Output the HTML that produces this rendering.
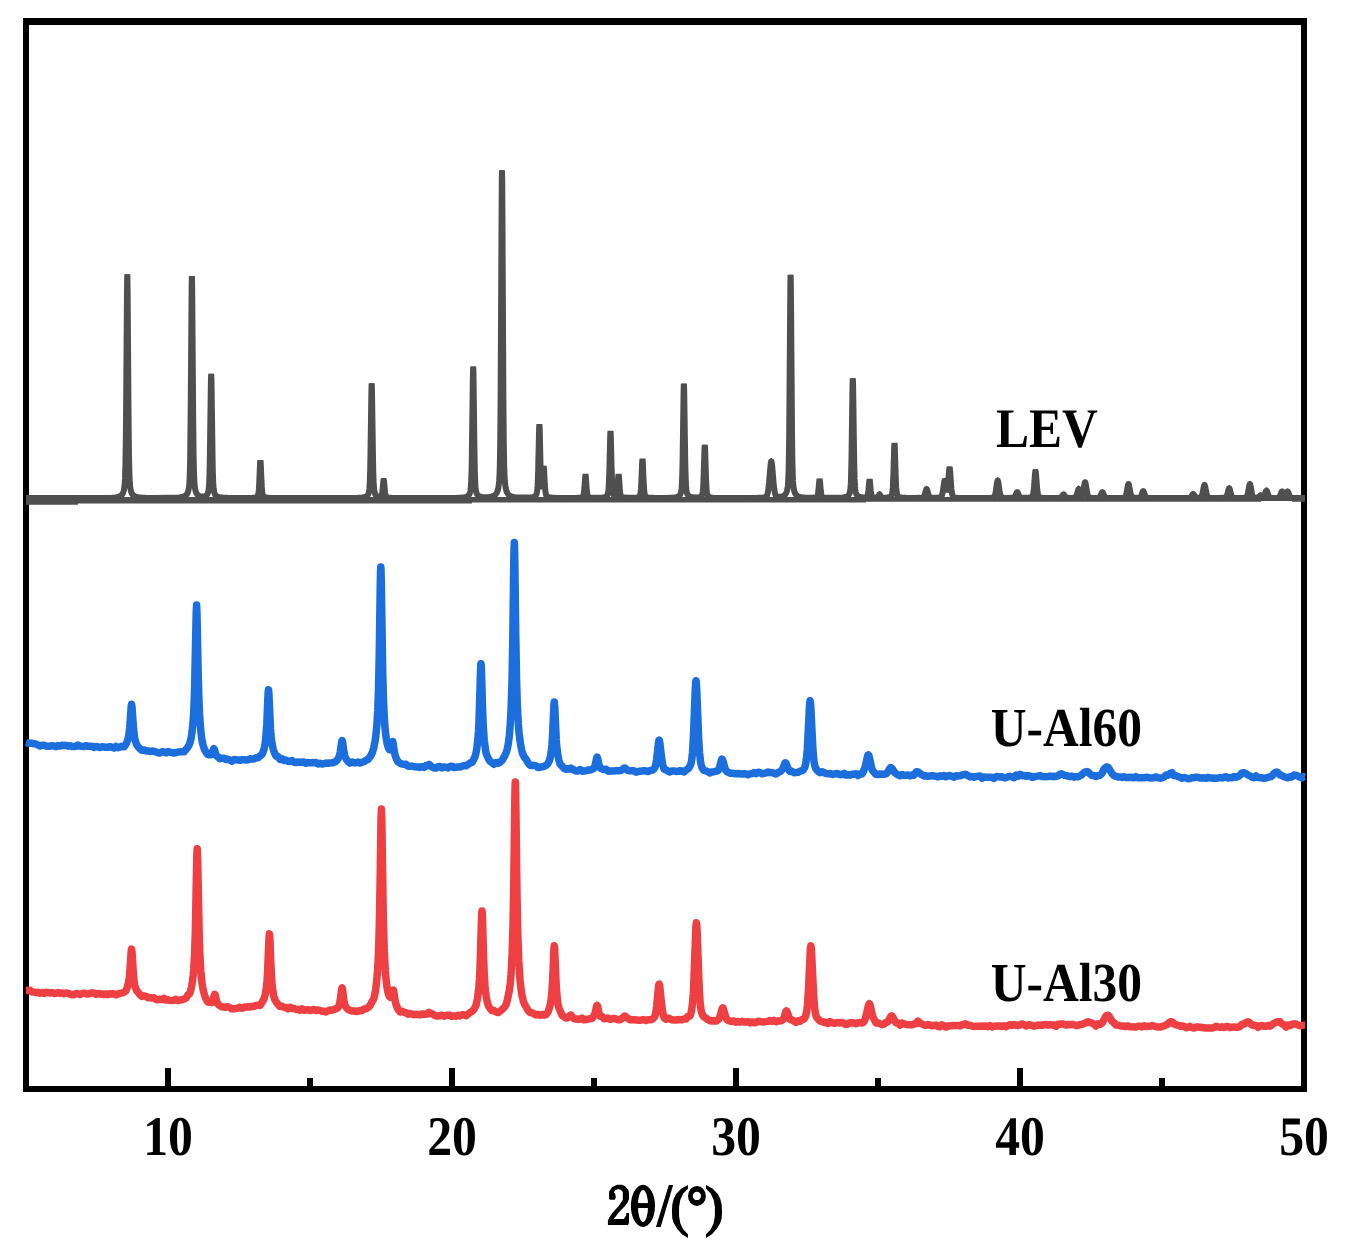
<!DOCTYPE html>
<html><head><meta charset="utf-8"><title>XRD patterns</title><style>
html,body{margin:0;padding:0;background:#fff;overflow:hidden;}
svg{display:block;}
text{font-family:"Liberation Serif",serif;font-weight:bold;fill:#000;text-rendering:geometricPrecision;}
</style></head><body>
<svg width="1349" height="1251" viewBox="0 0 1349 1251">
<rect x="0" y="0" width="1349" height="1251" fill="#fff"/>
<g fill="#000"><rect x="23" y="18" width="1284" height="7"/><rect x="23" y="1086" width="1284" height="6"/><rect x="23" y="18" width="6" height="1074"/><rect x="1301" y="18" width="6" height="1074"/></g>
<g stroke="#000" stroke-width="6" fill="none">

<line x1="168.0" y1="1068" x2="168.0" y2="1089"/><line x1="452.0" y1="1068" x2="452.0" y2="1089"/><line x1="736.0" y1="1068" x2="736.0" y2="1089"/><line x1="1020.0" y1="1068" x2="1020.0" y2="1089"/><line x1="1304.0" y1="1068" x2="1304.0" y2="1089"/><line x1="310.0" y1="1078" x2="310.0" y2="1089"/><line x1="594.0" y1="1078" x2="594.0" y2="1089"/><line x1="878.0" y1="1078" x2="878.0" y2="1089"/><line x1="1162.0" y1="1078" x2="1162.0" y2="1089"/>
</g>
<path d="M26,497 H1305 V501.8 H1292 V501 H1261 V501.7 H866 V502.6 H472 V503.6 H78 V504.8 H26 Z" fill="#4f4f4f"/>
<g fill="none" stroke-linejoin="miter" stroke-miterlimit="1.3" stroke-linecap="butt">
<path d="M26.00,498.10 L92.20,498.02 L104.60,497.90 L111.80,497.68 L114.40,497.49 L116.60,497.22 L118.20,496.89 L119.60,496.42 L120.60,495.90 L121.60,495.08 L122.40,494.06 L123.00,492.92 L123.60,491.23 L124.00,489.56 L124.40,487.03 L124.60,485.16 L125.00,478.94 L125.40,466.19 L125.80,441.27 L126.00,422.56 L127.00,290.22 L127.20,276.32 L127.30,274.47 L127.40,276.32 L127.60,290.22 L128.60,422.56 L129.00,455.62 L129.40,473.70 L129.80,482.59 L130.20,487.03 L130.60,489.55 L131.20,491.87 L132.00,493.72 L132.40,494.35 L133.00,495.07 L133.60,495.60 L134.20,496.01 L135.00,496.41 L136.00,496.76 L138.20,497.23 L141.20,497.55 L145.60,497.76 L155.00,497.89 L167.00,497.86 L174.60,497.69 L179.40,497.39 L181.60,497.08 L183.20,496.71 L184.60,496.17 L185.60,495.55 L186.40,494.80 L187.20,493.67 L187.80,492.38 L188.40,490.42 L188.80,488.42 L189.20,485.16 L189.60,478.99 L190.00,466.34 L190.20,455.87 L190.80,400.11 L191.60,291.87 L191.80,278.09 L191.90,276.26 L192.00,278.09 L192.20,291.86 L193.20,423.05 L193.60,455.82 L194.00,473.73 L194.40,482.53 L194.80,486.92 L195.20,489.42 L195.80,491.70 L196.40,493.14 L197.20,494.38 L198.20,495.31 L199.00,495.78 L200.00,496.15 L201.00,496.37 L202.20,496.48 L203.40,496.44 L204.40,496.28 L205.20,496.02 L206.00,495.60 L206.60,495.11 L207.00,494.66 L207.40,494.06 L207.80,493.23 L208.40,491.12 L208.80,488.23 L209.20,482.33 L209.40,477.38 L209.80,461.39 L210.80,388.64 L211.00,377.80 L211.20,373.79 L211.40,377.81 L211.60,388.66 L212.60,461.47 L212.80,470.62 L213.20,482.45 L213.60,488.37 L213.80,490.06 L214.20,492.18 L214.80,493.90 L215.40,494.92 L216.20,495.78 L217.20,496.43 L218.20,496.83 L219.40,497.14 L221.00,497.40 L222.80,497.58 L228.00,497.81 L236.40,497.94 L246.80,497.94 L252.40,497.79 L254.20,497.62 L255.40,497.40 L256.40,497.06 L257.00,496.70 L257.40,496.32 L257.80,495.68 L258.20,494.44 L258.60,491.88 L258.80,489.80 L259.20,483.50 L260.00,464.95 L260.20,461.66 L260.40,460.44 L260.60,461.66 L260.80,464.95 L261.60,483.50 L261.80,487.03 L262.20,491.88 L262.60,494.44 L263.00,495.69 L263.40,496.33 L263.80,496.71 L264.40,497.07 L265.00,497.30 L266.40,497.61 L268.60,497.82 L277.00,498.02 L320.60,498.07 L350.60,497.98 L357.80,497.82 L362.00,497.54 L363.60,497.30 L364.80,497.02 L365.80,496.63 L366.60,496.16 L367.40,495.42 L368.00,494.55 L368.40,493.70 L368.80,492.40 L369.20,490.13 L369.40,488.26 L369.80,481.73 L370.20,468.97 L370.40,459.39 L371.40,391.63 L371.60,384.52 L371.70,383.57 L371.80,384.51 L372.00,391.63 L373.00,459.36 L373.20,468.94 L373.60,481.69 L374.00,488.21 L374.40,491.39 L374.60,492.34 L375.00,493.63 L375.40,494.47 L376.00,495.32 L376.60,495.88 L377.40,496.36 L378.40,496.69 L379.40,496.82 L380.20,496.78 L380.80,496.59 L381.20,496.28 L381.60,495.61 L382.00,494.19 L382.40,491.56 L383.40,480.95 L383.60,479.84 L383.70,479.70 L383.80,479.85 L384.00,480.99 L385.00,491.71 L385.20,493.23 L385.60,495.26 L386.00,496.30 L386.40,496.81 L387.00,497.19 L388.00,497.48 L389.60,497.71 L391.80,497.84 L400.60,498.00 L428.80,498.04 L450.80,497.93 L457.60,497.78 L462.00,497.54 L465.00,497.13 L466.00,496.87 L467.00,496.48 L468.00,495.87 L468.80,495.07 L469.40,494.13 L470.00,492.64 L470.40,490.96 L470.80,487.88 L471.20,481.62 L471.60,469.10 L471.80,459.42 L472.80,382.38 L473.00,370.89 L473.20,366.64 L473.40,370.89 L473.60,382.37 L474.40,447.08 L474.80,469.06 L475.00,476.32 L475.40,485.25 L475.60,487.82 L476.00,490.88 L476.60,493.14 L477.00,494.03 L477.60,494.95 L478.20,495.57 L479.00,496.11 L479.80,496.47 L480.80,496.76 L482.40,497.02 L484.40,497.15 L486.80,497.14 L489.00,496.99 L490.80,496.74 L492.20,496.41 L493.60,495.89 L494.60,495.32 L495.40,494.66 L496.00,493.99 L496.60,493.09 L497.00,492.31 L497.80,490.08 L498.40,487.41 L498.80,484.73 L499.20,480.53 L499.60,472.86 L499.80,466.46 L500.20,444.15 L500.60,401.86 L501.60,209.58 L501.80,180.92 L502.00,170.32 L502.20,180.92 L502.40,209.58 L503.40,401.87 L503.80,444.16 L504.20,466.47 L504.40,472.88 L504.80,480.55 L505.20,484.75 L505.80,488.46 L506.20,490.11 L506.60,491.36 L507.00,492.35 L507.60,493.46 L508.20,494.28 L509.00,495.07 L509.80,495.63 L510.80,496.14 L512.00,496.55 L513.60,496.92 L515.40,497.19 L517.60,497.39 L524.00,497.61 L527.20,497.59 L529.80,497.48 L532.40,497.17 L533.40,496.93 L534.20,496.63 L535.00,496.17 L535.60,495.63 L536.00,495.11 L536.40,494.36 L536.80,493.09 L537.20,490.64 L537.60,485.64 L537.80,481.58 L538.20,469.31 L539.00,433.21 L539.20,426.78 L539.40,424.36 L539.60,426.66 L539.80,432.97 L540.40,460.39 L540.80,475.13 L541.00,480.26 L541.40,486.39 L541.60,487.74 L541.80,488.18 L542.00,487.77 L542.20,486.58 L542.60,481.97 L543.40,468.54 L543.60,466.87 L543.70,466.70 L543.80,467.02 L544.00,468.99 L544.80,483.85 L545.40,491.50 L545.80,494.00 L546.20,495.27 L546.80,496.15 L547.60,496.71 L548.40,497.04 L549.20,497.26 L551.40,497.58 L555.00,497.79 L560.40,497.91 L570.40,497.95 L577.20,497.86 L580.40,497.63 L581.40,497.43 L582.20,497.14 L582.80,496.69 L583.20,496.05 L583.60,494.74 L583.80,493.66 L584.40,487.91 L585.20,476.73 L585.40,475.31 L585.50,475.12 L585.60,475.31 L585.80,476.73 L586.60,487.90 L587.00,492.18 L587.20,493.65 L587.60,495.50 L587.80,496.03 L588.20,496.67 L588.60,497.00 L589.20,497.28 L590.00,497.50 L591.20,497.66 L594.80,497.81 L599.60,497.74 L602.40,497.54 L604.40,497.20 L605.80,496.68 L606.80,495.93 L607.20,495.43 L607.60,494.67 L608.00,493.34 L608.40,490.68 L608.80,485.29 L609.40,468.52 L610.20,435.96 L610.40,431.81 L610.50,431.26 L610.60,431.81 L610.80,435.94 L611.60,468.43 L612.20,485.15 L612.40,488.28 L612.80,492.05 L613.20,493.86 L613.60,494.78 L614.00,495.31 L614.40,495.64 L615.00,495.89 L615.40,495.92 L615.80,495.79 L616.20,495.38 L616.40,494.99 L616.80,493.52 L617.20,490.63 L617.40,488.51 L618.20,477.27 L618.40,475.28 L618.60,474.55 L618.80,475.32 L619.00,477.35 L619.80,488.78 L620.20,492.66 L620.40,493.95 L620.80,495.54 L621.00,496.00 L621.40,496.56 L622.00,496.98 L622.60,497.22 L624.60,497.59 L628.00,497.78 L632.80,497.78 L635.60,497.63 L637.40,497.36 L638.20,497.11 L638.80,496.83 L639.20,496.54 L639.60,496.11 L640.00,495.34 L640.40,493.81 L640.80,490.70 L641.00,488.22 L641.40,481.01 L642.20,462.20 L642.40,459.80 L642.50,459.48 L642.60,459.80 L642.80,462.20 L643.60,481.01 L644.20,490.70 L644.40,492.52 L644.80,494.72 L645.20,495.79 L645.60,496.36 L646.20,496.84 L647.00,497.21 L648.00,497.47 L649.40,497.66 L653.60,497.87 L660.80,497.93 L668.80,497.82 L673.60,497.57 L675.20,497.38 L676.60,497.10 L677.80,496.70 L678.60,496.28 L679.40,495.63 L680.00,494.87 L680.60,493.69 L681.00,492.40 L681.40,490.13 L681.60,488.27 L682.00,481.75 L682.40,469.03 L682.60,459.48 L683.60,391.90 L683.80,384.80 L683.90,383.86 L684.00,384.80 L684.20,391.90 L685.20,459.46 L685.40,469.01 L685.80,481.73 L686.20,488.24 L686.60,491.42 L686.80,492.37 L687.20,493.66 L687.60,494.50 L688.20,495.36 L688.80,495.94 L689.40,496.34 L690.20,496.71 L691.20,497.01 L692.40,497.23 L693.80,497.37 L697.00,497.41 L699.20,497.13 L700.00,496.90 L700.60,496.63 L701.20,496.21 L701.60,495.78 L702.00,495.11 L702.20,494.60 L702.60,492.85 L702.80,491.36 L703.20,486.32 L703.60,477.46 L704.40,451.37 L704.60,446.75 L704.80,445.04 L705.00,446.75 L705.20,451.38 L706.00,477.49 L706.20,482.45 L706.60,489.29 L707.00,492.90 L707.40,494.66 L707.60,495.17 L708.00,495.86 L708.80,496.60 L709.60,497.02 L710.40,497.28 L711.60,497.51 L713.20,497.69 L717.60,497.89 L725.40,497.99 L745.00,497.99 L757.40,497.85 L760.80,497.73 L763.20,497.54 L764.80,497.30 L765.80,496.93 L766.20,496.63 L766.60,496.17 L767.20,494.93 L767.80,492.62 L768.20,490.24 L769.00,483.09 L770.60,464.57 L771.00,462.01 L771.20,461.46 L771.30,461.39 L771.40,461.45 L771.60,461.99 L771.80,463.04 L772.20,466.40 L773.60,482.96 L774.20,488.59 L774.80,492.41 L775.40,494.68 L775.80,495.57 L776.40,496.31 L777.20,496.72 L778.20,496.87 L780.00,496.84 L781.80,496.56 L783.20,496.09 L784.40,495.38 L785.40,494.37 L786.20,493.03 L786.80,491.46 L787.40,488.95 L787.80,486.09 L788.20,480.87 L788.60,470.24 L789.00,448.98 L789.20,432.54 L790.20,301.61 L790.40,282.10 L790.60,274.88 L790.80,282.10 L791.00,301.62 L792.00,432.56 L792.40,461.35 L792.80,476.55 L793.00,480.91 L793.40,486.13 L793.80,488.99 L794.20,490.82 L794.60,492.12 L795.00,493.10 L795.80,494.45 L796.80,495.49 L797.40,495.91 L798.20,496.33 L799.80,496.86 L801.80,497.24 L804.40,497.50 L807.60,497.66 L811.40,497.71 L814.20,497.60 L815.80,497.36 L816.40,497.15 L816.80,496.92 L817.20,496.49 L817.40,496.13 L817.80,494.86 L818.00,493.84 L818.40,490.72 L819.20,481.56 L819.40,479.94 L819.60,479.34 L819.80,479.94 L820.00,481.57 L820.80,490.74 L821.20,493.85 L821.40,494.88 L821.80,496.15 L822.20,496.77 L822.80,497.19 L823.80,497.50 L825.00,497.67 L829.20,497.85 L837.80,497.79 L840.80,497.67 L843.20,497.46 L845.40,497.08 L847.00,496.49 L847.60,496.13 L848.20,495.62 L848.80,494.88 L849.20,494.18 L849.60,493.20 L850.00,491.67 L850.40,488.87 L850.80,483.17 L851.00,478.39 L851.40,462.96 L851.60,451.75 L852.40,392.80 L852.60,382.34 L852.80,378.47 L853.00,382.34 L853.20,392.80 L854.20,462.95 L854.60,478.38 L855.00,486.52 L855.20,488.86 L855.60,491.65 L856.00,493.18 L856.40,494.16 L857.00,495.13 L857.80,495.94 L858.80,496.54 L860.00,496.96 L861.20,497.20 L862.60,497.35 L864.00,497.38 L865.20,497.31 L866.00,497.16 L866.60,496.94 L867.00,496.65 L867.40,496.06 L867.80,494.84 L868.20,492.52 L869.20,481.94 L869.40,480.36 L869.60,479.78 L869.80,480.37 L870.00,481.95 L870.80,490.87 L871.20,493.90 L871.40,494.90 L871.80,496.14 L872.00,496.49 L872.40,496.91 L873.20,497.29 L874.60,497.55 L876.40,497.61 L877.40,497.45 L877.80,497.22 L878.20,496.76 L879.20,494.67 L879.40,494.36 L879.60,494.24 L879.80,494.36 L880.00,494.67 L880.80,496.45 L881.20,497.05 L881.80,497.48 L882.40,497.63 L883.80,497.70 L885.60,497.67 L887.20,497.55 L888.60,497.33 L889.40,497.11 L890.20,496.76 L890.80,496.35 L891.40,495.67 L891.80,494.87 L892.20,493.35 L892.60,490.23 L892.80,487.65 L893.40,473.88 L894.20,447.16 L894.40,443.76 L894.50,443.31 L894.60,443.76 L894.80,447.16 L895.80,479.56 L896.20,487.66 L896.60,492.08 L896.80,493.36 L897.20,494.89 L897.60,495.69 L898.00,496.19 L898.60,496.67 L899.40,497.07 L900.40,497.37 L901.60,497.58 L903.40,497.75 L906.00,497.87 L913.80,497.96 L920.20,497.87 L921.80,497.74 L922.60,497.57 L923.00,497.40 L923.40,497.10 L923.80,496.62 L924.20,495.90 L924.80,494.27 L926.00,490.07 L926.40,489.28 L926.60,489.17 L926.80,489.27 L927.20,490.07 L928.40,494.25 L929.00,495.87 L929.60,496.86 L930.20,497.36 L931.00,497.63 L932.00,497.74 L936.20,497.75 L938.00,497.64 L939.40,497.46 L940.20,497.26 L940.80,496.96 L941.20,496.60 L941.60,496.00 L942.00,495.03 L942.40,493.58 L943.00,490.33 L944.20,481.91 L944.60,480.26 L944.80,480.00 L945.00,480.15 L945.40,481.56 L946.60,488.58 L946.80,489.28 L947.00,489.67 L947.20,489.69 L947.40,489.29 L947.60,488.42 L948.00,485.24 L949.20,469.46 L949.40,467.94 L949.60,467.43 L949.80,468.04 L950.00,469.67 L951.40,489.01 L951.80,492.42 L952.20,494.53 L952.40,495.22 L952.80,496.10 L953.20,496.60 L953.60,496.89 L954.20,497.16 L955.00,497.39 L957.40,497.73 L960.60,497.90 L965.80,498.00 L984.40,498.01 L990.80,497.82 L992.40,497.64 L993.40,497.36 L994.00,496.95 L994.40,496.44 L994.80,495.59 L995.20,494.29 L995.80,491.26 L997.00,482.87 L997.40,480.97 L997.60,480.55 L997.70,480.49 L997.80,480.55 L998.00,480.97 L998.40,482.87 L999.60,491.26 L1000.20,494.28 L1000.60,495.58 L1001.00,496.43 L1001.40,496.94 L1002.00,497.35 L1002.60,497.55 L1003.60,497.71 L1007.00,497.90 L1011.80,497.87 L1012.80,497.79 L1013.60,497.61 L1014.20,497.27 L1014.80,496.61 L1015.40,495.52 L1016.60,492.71 L1017.00,492.17 L1017.20,492.10 L1017.40,492.17 L1017.80,492.71 L1019.00,495.51 L1019.60,496.60 L1020.20,497.26 L1020.80,497.60 L1021.60,497.78 L1022.60,497.85 L1026.60,497.85 L1029.40,497.66 L1031.20,497.27 L1032.00,496.81 L1032.40,496.32 L1032.60,495.93 L1033.00,494.70 L1033.40,492.56 L1034.00,487.01 L1035.00,473.91 L1035.20,472.08 L1035.40,471.09 L1035.50,470.97 L1035.60,471.09 L1035.80,472.08 L1036.00,473.91 L1037.20,489.20 L1037.60,492.57 L1038.00,494.71 L1038.20,495.42 L1038.60,496.33 L1039.20,496.98 L1039.80,497.29 L1040.40,497.47 L1042.20,497.75 L1045.40,497.93 L1050.60,498.01 L1057.00,497.99 L1059.60,497.85 L1060.40,497.63 L1061.00,497.26 L1061.60,496.64 L1062.80,494.90 L1063.20,494.50 L1063.50,494.40 L1063.80,494.50 L1064.20,494.89 L1065.20,496.35 L1065.80,497.06 L1066.20,497.39 L1066.80,497.68 L1067.80,497.86 L1070.00,497.90 L1072.80,497.81 L1074.40,497.62 L1075.00,497.40 L1075.40,497.13 L1075.80,496.70 L1076.20,496.04 L1076.80,494.50 L1078.20,489.68 L1078.40,489.26 L1078.70,489.00 L1079.00,489.21 L1079.40,490.12 L1080.40,493.51 L1080.80,494.61 L1081.20,495.34 L1081.40,495.54 L1081.60,495.64 L1081.80,495.61 L1082.20,495.20 L1082.40,494.79 L1082.80,493.54 L1083.40,490.60 L1084.40,484.39 L1084.80,482.72 L1085.00,482.36 L1085.10,482.31 L1085.20,482.36 L1085.40,482.75 L1085.60,483.47 L1087.20,492.96 L1087.60,494.63 L1088.00,495.80 L1088.60,496.81 L1089.20,497.29 L1090.20,497.60 L1091.80,497.78 L1094.40,497.88 L1097.00,497.86 L1098.20,497.77 L1099.00,497.54 L1099.60,497.13 L1100.20,496.35 L1101.80,492.87 L1102.20,492.35 L1102.40,492.28 L1102.60,492.35 L1103.00,492.87 L1104.20,495.62 L1104.80,496.68 L1105.20,497.15 L1105.60,497.46 L1106.40,497.77 L1107.60,497.91 L1109.80,497.99 L1117.80,497.99 L1122.20,497.83 L1123.40,497.70 L1124.20,497.51 L1124.80,497.18 L1125.20,496.77 L1125.60,496.10 L1126.00,495.05 L1126.60,492.63 L1127.80,485.92 L1128.20,484.40 L1128.40,484.06 L1128.50,484.02 L1128.60,484.06 L1128.80,484.40 L1129.00,485.04 L1130.40,492.62 L1130.80,494.35 L1131.20,495.61 L1131.60,496.46 L1132.20,497.16 L1132.80,497.49 L1133.80,497.70 L1135.80,497.83 L1138.20,497.81 L1139.20,497.67 L1140.00,497.32 L1140.60,496.70 L1141.00,496.02 L1141.40,495.12 L1142.60,491.85 L1143.00,491.23 L1143.20,491.15 L1143.40,491.23 L1143.80,491.86 L1145.00,495.15 L1145.40,496.06 L1145.80,496.74 L1146.20,497.20 L1146.60,497.50 L1147.20,497.74 L1148.00,497.87 L1152.20,498.04 L1162.60,498.09 L1182.00,498.07 L1188.60,497.94 L1189.80,497.73 L1190.60,497.28 L1191.40,496.34 L1192.60,494.40 L1193.00,494.03 L1193.20,493.98 L1193.40,494.03 L1193.80,494.39 L1195.20,496.57 L1195.60,497.02 L1196.20,497.46 L1196.80,497.67 L1197.60,497.76 L1198.80,497.74 L1199.80,497.62 L1200.60,497.35 L1201.20,496.84 L1201.60,496.22 L1202.00,495.25 L1202.60,493.01 L1203.80,486.77 L1204.20,485.36 L1204.40,485.05 L1204.50,485.01 L1204.60,485.05 L1204.80,485.36 L1205.20,486.78 L1206.40,493.02 L1207.00,495.27 L1207.40,496.24 L1207.80,496.87 L1208.20,497.25 L1208.80,497.55 L1209.80,497.76 L1211.60,497.90 L1218.00,498.00 L1223.40,497.87 L1224.60,497.74 L1225.40,497.51 L1225.80,497.25 L1226.20,496.84 L1226.80,495.75 L1227.40,493.95 L1228.60,489.32 L1229.00,488.45 L1229.20,488.33 L1229.40,488.45 L1229.80,489.32 L1231.00,493.95 L1231.60,495.74 L1232.20,496.83 L1232.80,497.39 L1233.20,497.58 L1233.80,497.73 L1236.00,497.90 L1240.40,497.93 L1244.00,497.78 L1245.20,497.61 L1246.00,497.30 L1246.60,496.75 L1247.00,496.08 L1247.40,495.03 L1247.80,493.54 L1249.40,485.01 L1249.60,484.37 L1249.80,484.03 L1249.90,483.99 L1250.00,484.03 L1250.20,484.37 L1250.60,485.89 L1251.80,492.60 L1252.40,495.01 L1252.80,496.05 L1253.20,496.72 L1253.80,497.26 L1254.40,497.51 L1255.20,497.65 L1256.40,497.70 L1257.20,497.65 L1257.80,497.49 L1258.40,497.18 L1258.80,496.85 L1260.20,495.41 L1260.70,495.20 L1261.20,495.37 L1262.40,496.46 L1262.80,496.70 L1263.20,496.77 L1263.60,496.61 L1264.00,496.19 L1264.40,495.47 L1265.80,491.53 L1266.20,490.73 L1266.50,490.53 L1266.80,490.74 L1267.00,491.08 L1268.40,495.13 L1269.00,496.42 L1269.40,496.97 L1269.80,497.33 L1270.20,497.55 L1270.80,497.72 L1272.80,497.88 L1276.00,497.88 L1277.60,497.77 L1278.60,497.46 L1279.20,496.99 L1279.80,496.11 L1280.20,495.25 L1281.40,492.14 L1281.80,491.55 L1282.00,491.46 L1282.20,491.53 L1282.60,492.09 L1283.60,494.53 L1284.20,495.66 L1284.60,496.02 L1285.00,496.02 L1285.40,495.67 L1285.80,494.99 L1287.00,492.12 L1287.40,491.57 L1287.60,491.50 L1287.80,491.59 L1288.20,492.19 L1289.40,495.29 L1290.00,496.49 L1290.60,497.23 L1291.20,497.61 L1292.20,497.85 L1294.20,497.98 L1305.00,498.10" stroke="#4f4f4f" stroke-width="6"/>
<path d="M26.00,498.10 L92.20,498.02 L104.60,497.90 L111.80,497.68 L114.40,497.49 L116.60,497.22 L118.20,496.89 L119.60,496.42 L120.60,495.90 L121.60,495.08 L122.40,494.06 L123.00,492.92 L123.60,491.23 L124.00,489.56 L124.40,487.03 L124.60,485.16 L125.00,478.94 L125.40,466.19 L125.80,441.27 L126.00,422.56 L127.00,290.22 L127.20,276.32 L127.30,274.47 L127.40,276.32 L127.60,290.22 L128.60,422.56 L129.00,455.62 L129.40,473.70 L129.80,482.59 L130.20,487.03 L130.60,489.55 L131.20,491.87 L132.00,493.72 L132.40,494.35 L133.00,495.07 L133.60,495.60 L134.20,496.01 L135.00,496.41 L136.00,496.76 L138.20,497.23 L141.20,497.55 L145.60,497.76 L155.00,497.89 L167.00,497.86 L174.60,497.69 L179.40,497.39 L181.60,497.08 L183.20,496.71 L184.60,496.17 L185.60,495.55 L186.40,494.80 L187.20,493.67 L187.80,492.38 L188.40,490.42 L188.80,488.42 L189.20,485.16 L189.60,478.99 L190.00,466.34 L190.20,455.87 L190.80,400.11 L191.60,291.87 L191.80,278.09 L191.90,276.26 L192.00,278.09 L192.20,291.86 L193.20,423.05 L193.60,455.82 L194.00,473.73 L194.40,482.53 L194.80,486.92 L195.20,489.42 L195.80,491.70 L196.40,493.14 L197.20,494.38 L198.20,495.31 L199.00,495.78 L200.00,496.15 L201.00,496.37 L202.20,496.48 L203.40,496.44 L204.40,496.28 L205.20,496.02 L206.00,495.60 L206.60,495.11 L207.00,494.66 L207.40,494.06 L207.80,493.23 L208.40,491.12 L208.80,488.23 L209.20,482.33 L209.40,477.38 L209.80,461.39 L210.80,388.64 L211.00,377.80 L211.20,373.79 L211.40,377.81 L211.60,388.66 L212.60,461.47 L212.80,470.62 L213.20,482.45 L213.60,488.37 L213.80,490.06 L214.20,492.18 L214.80,493.90 L215.40,494.92 L216.20,495.78 L217.20,496.43 L218.20,496.83 L219.40,497.14 L221.00,497.40 L222.80,497.58 L228.00,497.81 L236.40,497.94 L246.80,497.94 L252.40,497.79 L254.20,497.62 L255.40,497.40 L256.40,497.06 L257.00,496.70 L257.40,496.32 L257.80,495.68 L258.20,494.44 L258.60,491.88 L258.80,489.80 L259.20,483.50 L260.00,464.95 L260.20,461.66 L260.40,460.44 L260.60,461.66 L260.80,464.95 L261.60,483.50 L261.80,487.03 L262.20,491.88 L262.60,494.44 L263.00,495.69 L263.40,496.33 L263.80,496.71 L264.40,497.07 L265.00,497.30 L266.40,497.61 L268.60,497.82 L277.00,498.02 L320.60,498.07 L350.60,497.98 L357.80,497.82 L362.00,497.54 L363.60,497.30 L364.80,497.02 L365.80,496.63 L366.60,496.16 L367.40,495.42 L368.00,494.55 L368.40,493.70 L368.80,492.40 L369.20,490.13 L369.40,488.26 L369.80,481.73 L370.20,468.97 L370.40,459.39 L371.40,391.63 L371.60,384.52 L371.70,383.57 L371.80,384.51 L372.00,391.63 L373.00,459.36 L373.20,468.94 L373.60,481.69 L374.00,488.21 L374.40,491.39 L374.60,492.34 L375.00,493.63 L375.40,494.47 L376.00,495.32 L376.60,495.88 L377.40,496.36 L378.40,496.69 L379.40,496.82 L380.20,496.78 L380.80,496.59 L381.20,496.28 L381.60,495.61 L382.00,494.19 L382.40,491.56 L383.40,480.95 L383.60,479.84 L383.70,479.70 L383.80,479.85 L384.00,480.99 L385.00,491.71 L385.20,493.23 L385.60,495.26 L386.00,496.30 L386.40,496.81 L387.00,497.19 L388.00,497.48 L389.60,497.71 L391.80,497.84 L400.60,498.00 L428.80,498.04 L450.80,497.93 L457.60,497.78 L462.00,497.54 L465.00,497.13 L466.00,496.87 L467.00,496.48 L468.00,495.87 L468.80,495.07 L469.40,494.13 L470.00,492.64 L470.40,490.96 L470.80,487.88 L471.20,481.62 L471.60,469.10 L471.80,459.42 L472.80,382.38 L473.00,370.89 L473.20,366.64 L473.40,370.89 L473.60,382.37 L474.40,447.08 L474.80,469.06 L475.00,476.32 L475.40,485.25 L475.60,487.82 L476.00,490.88 L476.60,493.14 L477.00,494.03 L477.60,494.95 L478.20,495.57 L479.00,496.11 L479.80,496.47 L480.80,496.76 L482.40,497.02 L484.40,497.15 L486.80,497.14 L489.00,496.99 L490.80,496.74 L492.20,496.41 L493.60,495.89 L494.60,495.32 L495.40,494.66 L496.00,493.99 L496.60,493.09 L497.00,492.31 L497.80,490.08 L498.40,487.41 L498.80,484.73 L499.20,480.53 L499.60,472.86 L499.80,466.46 L500.20,444.15 L500.60,401.86 L501.60,209.58 L501.80,180.92 L502.00,170.32 L502.20,180.92 L502.40,209.58 L503.40,401.87 L503.80,444.16 L504.20,466.47 L504.40,472.88 L504.80,480.55 L505.20,484.75 L505.80,488.46 L506.20,490.11 L506.60,491.36 L507.00,492.35 L507.60,493.46 L508.20,494.28 L509.00,495.07 L509.80,495.63 L510.80,496.14 L512.00,496.55 L513.60,496.92 L515.40,497.19 L517.60,497.39 L524.00,497.61 L527.20,497.59 L529.80,497.48 L532.40,497.17 L533.40,496.93 L534.20,496.63 L535.00,496.17 L535.60,495.63 L536.00,495.11 L536.40,494.36 L536.80,493.09 L537.20,490.64 L537.60,485.64 L537.80,481.58 L538.20,469.31 L539.00,433.21 L539.20,426.78 L539.40,424.36 L539.60,426.66 L539.80,432.97 L540.40,460.39 L540.80,475.13 L541.00,480.26 L541.40,486.39 L541.60,487.74 L541.80,488.18 L542.00,487.77 L542.20,486.58 L542.60,481.97 L543.40,468.54 L543.60,466.87 L543.70,466.70 L543.80,467.02 L544.00,468.99 L544.80,483.85 L545.40,491.50 L545.80,494.00 L546.20,495.27 L546.80,496.15 L547.60,496.71 L548.40,497.04 L549.20,497.26 L551.40,497.58 L555.00,497.79 L560.40,497.91 L570.40,497.95 L577.20,497.86 L580.40,497.63 L581.40,497.43 L582.20,497.14 L582.80,496.69 L583.20,496.05 L583.60,494.74 L583.80,493.66 L584.40,487.91 L585.20,476.73 L585.40,475.31 L585.50,475.12 L585.60,475.31 L585.80,476.73 L586.60,487.90 L587.00,492.18 L587.20,493.65 L587.60,495.50 L587.80,496.03 L588.20,496.67 L588.60,497.00 L589.20,497.28 L590.00,497.50 L591.20,497.66 L594.80,497.81 L599.60,497.74 L602.40,497.54 L604.40,497.20 L605.80,496.68 L606.80,495.93 L607.20,495.43 L607.60,494.67 L608.00,493.34 L608.40,490.68 L608.80,485.29 L609.40,468.52 L610.20,435.96 L610.40,431.81 L610.50,431.26 L610.60,431.81 L610.80,435.94 L611.60,468.43 L612.20,485.15 L612.40,488.28 L612.80,492.05 L613.20,493.86 L613.60,494.78 L614.00,495.31 L614.40,495.64 L615.00,495.89 L615.40,495.92 L615.80,495.79 L616.20,495.38 L616.40,494.99 L616.80,493.52 L617.20,490.63 L617.40,488.51 L618.20,477.27 L618.40,475.28 L618.60,474.55 L618.80,475.32 L619.00,477.35 L619.80,488.78 L620.20,492.66 L620.40,493.95 L620.80,495.54 L621.00,496.00 L621.40,496.56 L622.00,496.98 L622.60,497.22 L624.60,497.59 L628.00,497.78 L632.80,497.78 L635.60,497.63 L637.40,497.36 L638.20,497.11 L638.80,496.83 L639.20,496.54 L639.60,496.11 L640.00,495.34 L640.40,493.81 L640.80,490.70 L641.00,488.22 L641.40,481.01 L642.20,462.20 L642.40,459.80 L642.50,459.48 L642.60,459.80 L642.80,462.20 L643.60,481.01 L644.20,490.70 L644.40,492.52 L644.80,494.72 L645.20,495.79 L645.60,496.36 L646.20,496.84 L647.00,497.21 L648.00,497.47 L649.40,497.66 L653.60,497.87 L660.80,497.93 L668.80,497.82 L673.60,497.57 L675.20,497.38 L676.60,497.10 L677.80,496.70 L678.60,496.28 L679.40,495.63 L680.00,494.87 L680.60,493.69 L681.00,492.40 L681.40,490.13 L681.60,488.27 L682.00,481.75 L682.40,469.03 L682.60,459.48 L683.60,391.90 L683.80,384.80 L683.90,383.86 L684.00,384.80 L684.20,391.90 L685.20,459.46 L685.40,469.01 L685.80,481.73 L686.20,488.24 L686.60,491.42 L686.80,492.37 L687.20,493.66 L687.60,494.50 L688.20,495.36 L688.80,495.94 L689.40,496.34 L690.20,496.71 L691.20,497.01 L692.40,497.23 L693.80,497.37 L697.00,497.41 L699.20,497.13 L700.00,496.90 L700.60,496.63 L701.20,496.21 L701.60,495.78 L702.00,495.11 L702.20,494.60 L702.60,492.85 L702.80,491.36 L703.20,486.32 L703.60,477.46 L704.40,451.37 L704.60,446.75 L704.80,445.04 L705.00,446.75 L705.20,451.38 L706.00,477.49 L706.20,482.45 L706.60,489.29 L707.00,492.90 L707.40,494.66 L707.60,495.17 L708.00,495.86 L708.80,496.60 L709.60,497.02 L710.40,497.28 L711.60,497.51 L713.20,497.69 L717.60,497.89 L725.40,497.99 L745.00,497.99 L757.40,497.85 L760.80,497.73 L763.20,497.54 L764.80,497.30 L765.80,496.93 L766.20,496.63 L766.60,496.17 L767.20,494.93 L767.80,492.62 L768.20,490.24 L769.00,483.09 L770.60,464.57 L771.00,462.01 L771.20,461.46 L771.30,461.39 L771.40,461.45 L771.60,461.99 L771.80,463.04 L772.20,466.40 L773.60,482.96 L774.20,488.59 L774.80,492.41 L775.40,494.68 L775.80,495.57 L776.40,496.31 L777.20,496.72 L778.20,496.87 L780.00,496.84 L781.80,496.56 L783.20,496.09 L784.40,495.38 L785.40,494.37 L786.20,493.03 L786.80,491.46 L787.40,488.95 L787.80,486.09 L788.20,480.87 L788.60,470.24 L789.00,448.98 L789.20,432.54 L790.20,301.61 L790.40,282.10 L790.60,274.88 L790.80,282.10 L791.00,301.62 L792.00,432.56 L792.40,461.35 L792.80,476.55 L793.00,480.91 L793.40,486.13 L793.80,488.99 L794.20,490.82 L794.60,492.12 L795.00,493.10 L795.80,494.45 L796.80,495.49 L797.40,495.91 L798.20,496.33 L799.80,496.86 L801.80,497.24 L804.40,497.50 L807.60,497.66 L811.40,497.71 L814.20,497.60 L815.80,497.36 L816.40,497.15 L816.80,496.92 L817.20,496.49 L817.40,496.13 L817.80,494.86 L818.00,493.84 L818.40,490.72 L819.20,481.56 L819.40,479.94 L819.60,479.34 L819.80,479.94 L820.00,481.57 L820.80,490.74 L821.20,493.85 L821.40,494.88 L821.80,496.15 L822.20,496.77 L822.80,497.19 L823.80,497.50 L825.00,497.67 L829.20,497.85 L837.80,497.79 L840.80,497.67 L843.20,497.46 L845.40,497.08 L847.00,496.49 L847.60,496.13 L848.20,495.62 L848.80,494.88 L849.20,494.18 L849.60,493.20 L850.00,491.67 L850.40,488.87 L850.80,483.17 L851.00,478.39 L851.40,462.96 L851.60,451.75 L852.40,392.80 L852.60,382.34 L852.80,378.47 L853.00,382.34 L853.20,392.80 L854.20,462.95 L854.60,478.38 L855.00,486.52 L855.20,488.86 L855.60,491.65 L856.00,493.18 L856.40,494.16 L857.00,495.13 L857.80,495.94 L858.80,496.54 L860.00,496.96 L861.20,497.20 L862.60,497.35 L864.00,497.38 L865.20,497.31 L866.00,497.16 L866.60,496.94 L867.00,496.65 L867.40,496.06 L867.80,494.84 L868.20,492.52 L869.20,481.94 L869.40,480.36 L869.60,479.78 L869.80,480.37 L870.00,481.95 L870.80,490.87 L871.20,493.90 L871.40,494.90 L871.80,496.14 L872.00,496.49 L872.40,496.91 L873.20,497.29 L874.60,497.55 L876.40,497.61 L877.40,497.45 L877.80,497.22 L878.20,496.76 L879.20,494.67 L879.40,494.36 L879.60,494.24 L879.80,494.36 L880.00,494.67 L880.80,496.45 L881.20,497.05 L881.80,497.48 L882.40,497.63 L883.80,497.70 L885.60,497.67 L887.20,497.55 L888.60,497.33 L889.40,497.11 L890.20,496.76 L890.80,496.35 L891.40,495.67 L891.80,494.87 L892.20,493.35 L892.60,490.23 L892.80,487.65 L893.40,473.88 L894.20,447.16 L894.40,443.76 L894.50,443.31 L894.60,443.76 L894.80,447.16 L895.80,479.56 L896.20,487.66 L896.60,492.08 L896.80,493.36 L897.20,494.89 L897.60,495.69 L898.00,496.19 L898.60,496.67 L899.40,497.07 L900.40,497.37 L901.60,497.58 L903.40,497.75 L906.00,497.87 L913.80,497.96 L920.20,497.87 L921.80,497.74 L922.60,497.57 L923.00,497.40 L923.40,497.10 L923.80,496.62 L924.20,495.90 L924.80,494.27 L926.00,490.07 L926.40,489.28 L926.60,489.17 L926.80,489.27 L927.20,490.07 L928.40,494.25 L929.00,495.87 L929.60,496.86 L930.20,497.36 L931.00,497.63 L932.00,497.74 L936.20,497.75 L938.00,497.64 L939.40,497.46 L940.20,497.26 L940.80,496.96 L941.20,496.60 L941.60,496.00 L942.00,495.03 L942.40,493.58 L943.00,490.33 L944.20,481.91 L944.60,480.26 L944.80,480.00 L945.00,480.15 L945.40,481.56 L946.60,488.58 L946.80,489.28 L947.00,489.67 L947.20,489.69 L947.40,489.29 L947.60,488.42 L948.00,485.24 L949.20,469.46 L949.40,467.94 L949.60,467.43 L949.80,468.04 L950.00,469.67 L951.40,489.01 L951.80,492.42 L952.20,494.53 L952.40,495.22 L952.80,496.10 L953.20,496.60 L953.60,496.89 L954.20,497.16 L955.00,497.39 L957.40,497.73 L960.60,497.90 L965.80,498.00 L984.40,498.01 L990.80,497.82 L992.40,497.64 L993.40,497.36 L994.00,496.95 L994.40,496.44 L994.80,495.59 L995.20,494.29 L995.80,491.26 L997.00,482.87 L997.40,480.97 L997.60,480.55 L997.70,480.49 L997.80,480.55 L998.00,480.97 L998.40,482.87 L999.60,491.26 L1000.20,494.28 L1000.60,495.58 L1001.00,496.43 L1001.40,496.94 L1002.00,497.35 L1002.60,497.55 L1003.60,497.71 L1007.00,497.90 L1011.80,497.87 L1012.80,497.79 L1013.60,497.61 L1014.20,497.27 L1014.80,496.61 L1015.40,495.52 L1016.60,492.71 L1017.00,492.17 L1017.20,492.10 L1017.40,492.17 L1017.80,492.71 L1019.00,495.51 L1019.60,496.60 L1020.20,497.26 L1020.80,497.60 L1021.60,497.78 L1022.60,497.85 L1026.60,497.85 L1029.40,497.66 L1031.20,497.27 L1032.00,496.81 L1032.40,496.32 L1032.60,495.93 L1033.00,494.70 L1033.40,492.56 L1034.00,487.01 L1035.00,473.91 L1035.20,472.08 L1035.40,471.09 L1035.50,470.97 L1035.60,471.09 L1035.80,472.08 L1036.00,473.91 L1037.20,489.20 L1037.60,492.57 L1038.00,494.71 L1038.20,495.42 L1038.60,496.33 L1039.20,496.98 L1039.80,497.29 L1040.40,497.47 L1042.20,497.75 L1045.40,497.93 L1050.60,498.01 L1057.00,497.99 L1059.60,497.85 L1060.40,497.63 L1061.00,497.26 L1061.60,496.64 L1062.80,494.90 L1063.20,494.50 L1063.50,494.40 L1063.80,494.50 L1064.20,494.89 L1065.20,496.35 L1065.80,497.06 L1066.20,497.39 L1066.80,497.68 L1067.80,497.86 L1070.00,497.90 L1072.80,497.81 L1074.40,497.62 L1075.00,497.40 L1075.40,497.13 L1075.80,496.70 L1076.20,496.04 L1076.80,494.50 L1078.20,489.68 L1078.40,489.26 L1078.70,489.00 L1079.00,489.21 L1079.40,490.12 L1080.40,493.51 L1080.80,494.61 L1081.20,495.34 L1081.40,495.54 L1081.60,495.64 L1081.80,495.61 L1082.20,495.20 L1082.40,494.79 L1082.80,493.54 L1083.40,490.60 L1084.40,484.39 L1084.80,482.72 L1085.00,482.36 L1085.10,482.31 L1085.20,482.36 L1085.40,482.75 L1085.60,483.47 L1087.20,492.96 L1087.60,494.63 L1088.00,495.80 L1088.60,496.81 L1089.20,497.29 L1090.20,497.60 L1091.80,497.78 L1094.40,497.88 L1097.00,497.86 L1098.20,497.77 L1099.00,497.54 L1099.60,497.13 L1100.20,496.35 L1101.80,492.87 L1102.20,492.35 L1102.40,492.28 L1102.60,492.35 L1103.00,492.87 L1104.20,495.62 L1104.80,496.68 L1105.20,497.15 L1105.60,497.46 L1106.40,497.77 L1107.60,497.91 L1109.80,497.99 L1117.80,497.99 L1122.20,497.83 L1123.40,497.70 L1124.20,497.51 L1124.80,497.18 L1125.20,496.77 L1125.60,496.10 L1126.00,495.05 L1126.60,492.63 L1127.80,485.92 L1128.20,484.40 L1128.40,484.06 L1128.50,484.02 L1128.60,484.06 L1128.80,484.40 L1129.00,485.04 L1130.40,492.62 L1130.80,494.35 L1131.20,495.61 L1131.60,496.46 L1132.20,497.16 L1132.80,497.49 L1133.80,497.70 L1135.80,497.83 L1138.20,497.81 L1139.20,497.67 L1140.00,497.32 L1140.60,496.70 L1141.00,496.02 L1141.40,495.12 L1142.60,491.85 L1143.00,491.23 L1143.20,491.15 L1143.40,491.23 L1143.80,491.86 L1145.00,495.15 L1145.40,496.06 L1145.80,496.74 L1146.20,497.20 L1146.60,497.50 L1147.20,497.74 L1148.00,497.87 L1152.20,498.04 L1162.60,498.09 L1182.00,498.07 L1188.60,497.94 L1189.80,497.73 L1190.60,497.28 L1191.40,496.34 L1192.60,494.40 L1193.00,494.03 L1193.20,493.98 L1193.40,494.03 L1193.80,494.39 L1195.20,496.57 L1195.60,497.02 L1196.20,497.46 L1196.80,497.67 L1197.60,497.76 L1198.80,497.74 L1199.80,497.62 L1200.60,497.35 L1201.20,496.84 L1201.60,496.22 L1202.00,495.25 L1202.60,493.01 L1203.80,486.77 L1204.20,485.36 L1204.40,485.05 L1204.50,485.01 L1204.60,485.05 L1204.80,485.36 L1205.20,486.78 L1206.40,493.02 L1207.00,495.27 L1207.40,496.24 L1207.80,496.87 L1208.20,497.25 L1208.80,497.55 L1209.80,497.76 L1211.60,497.90 L1218.00,498.00 L1223.40,497.87 L1224.60,497.74 L1225.40,497.51 L1225.80,497.25 L1226.20,496.84 L1226.80,495.75 L1227.40,493.95 L1228.60,489.32 L1229.00,488.45 L1229.20,488.33 L1229.40,488.45 L1229.80,489.32 L1231.00,493.95 L1231.60,495.74 L1232.20,496.83 L1232.80,497.39 L1233.20,497.58 L1233.80,497.73 L1236.00,497.90 L1240.40,497.93 L1244.00,497.78 L1245.20,497.61 L1246.00,497.30 L1246.60,496.75 L1247.00,496.08 L1247.40,495.03 L1247.80,493.54 L1249.40,485.01 L1249.60,484.37 L1249.80,484.03 L1249.90,483.99 L1250.00,484.03 L1250.20,484.37 L1250.60,485.89 L1251.80,492.60 L1252.40,495.01 L1252.80,496.05 L1253.20,496.72 L1253.80,497.26 L1254.40,497.51 L1255.20,497.65 L1256.40,497.70 L1257.20,497.65 L1257.80,497.49 L1258.40,497.18 L1258.80,496.85 L1260.20,495.41 L1260.70,495.20 L1261.20,495.37 L1262.40,496.46 L1262.80,496.70 L1263.20,496.77 L1263.60,496.61 L1264.00,496.19 L1264.40,495.47 L1265.80,491.53 L1266.20,490.73 L1266.50,490.53 L1266.80,490.74 L1267.00,491.08 L1268.40,495.13 L1269.00,496.42 L1269.40,496.97 L1269.80,497.33 L1270.20,497.55 L1270.80,497.72 L1272.80,497.88 L1276.00,497.88 L1277.60,497.77 L1278.60,497.46 L1279.20,496.99 L1279.80,496.11 L1280.20,495.25 L1281.40,492.14 L1281.80,491.55 L1282.00,491.46 L1282.20,491.53 L1282.60,492.09 L1283.60,494.53 L1284.20,495.66 L1284.60,496.02 L1285.00,496.02 L1285.40,495.67 L1285.80,494.99 L1287.00,492.12 L1287.40,491.57 L1287.60,491.50 L1287.80,491.59 L1288.20,492.19 L1289.40,495.29 L1290.00,496.49 L1290.60,497.23 L1291.20,497.61 L1292.20,497.85 L1294.20,497.98 L1305.00,498.10" stroke="#4f4f4f" stroke-width="4"/>
<path d="M26.00,742.50 L28.00,743.06 L32.00,743.21 L34.00,743.85 L36.00,743.96 L40.00,746.04 L42.00,745.21 L44.00,745.32 L46.00,746.11 L48.00,746.22 L50.00,746.26 L52.00,745.70 L56.00,746.63 L58.00,745.52 L60.00,746.02 L62.00,745.24 L64.00,745.59 L66.00,745.30 L68.00,746.20 L70.00,745.64 L72.00,746.50 L74.00,746.44 L76.00,746.27 L78.00,744.99 L80.00,746.09 L82.00,746.37 L84.00,746.46 L86.00,745.65 L88.00,746.33 L90.00,746.14 L92.00,746.32 L94.00,747.44 L96.00,746.49 L100.00,747.58 L102.00,746.84 L105.75,747.30 L108.00,747.33 L110.00,746.64 L114.00,747.99 L116.00,746.37 L118.00,747.67 L120.25,747.01 L122.00,746.25 L124.00,746.81 L125.75,744.65 L126.75,742.61 L127.75,739.59 L128.75,735.43 L129.75,727.61 L131.00,709.17 L131.25,706.03 L131.60,704.23 L132.00,706.77 L133.50,728.72 L134.00,733.36 L134.75,738.31 L135.50,741.57 L136.50,744.27 L137.25,745.52 L138.50,747.12 L140.25,749.00 L142.00,750.39 L144.00,749.92 L146.00,750.89 L148.00,750.89 L150.00,751.51 L152.00,751.02 L156.00,751.93 L158.00,752.67 L160.00,752.93 L162.00,751.67 L164.00,752.04 L166.00,752.89 L168.00,751.46 L170.00,752.29 L172.00,752.44 L174.00,753.08 L178.00,752.06 L182.00,751.62 L184.00,751.86 L187.75,747.39 L189.00,745.21 L190.00,742.63 L191.00,738.54 L191.75,734.22 L193.00,722.89 L193.75,711.32 L194.50,692.54 L196.25,611.01 L196.60,604.95 L197.00,613.20 L198.00,665.39 L198.75,695.15 L199.50,713.42 L200.25,725.00 L201.50,737.07 L202.00,740.39 L203.00,744.93 L204.00,748.13 L205.00,750.41 L206.75,753.31 L207.75,754.45 L208.00,754.66 L209.00,754.86 L210.00,754.70 L210.75,754.76 L211.50,754.40 L212.00,753.80 L213.50,749.18 L213.90,748.66 L214.25,749.17 L216.00,755.13 L216.75,756.10 L218.00,756.77 L220.00,758.74 L222.00,758.19 L224.00,758.35 L226.00,759.52 L228.00,759.34 L230.00,760.02 L232.00,761.22 L234.00,759.55 L236.00,759.67 L238.00,760.10 L240.00,760.22 L242.00,759.78 L244.00,759.68 L246.00,760.05 L248.00,759.79 L250.00,758.82 L252.00,759.15 L254.00,758.91 L256.00,757.82 L258.00,757.76 L260.00,755.82 L261.00,755.31 L261.75,754.69 L262.25,753.93 L263.00,752.22 L264.25,748.07 L265.00,744.29 L265.75,738.52 L266.75,724.78 L268.00,695.28 L268.25,691.18 L268.50,689.71 L268.75,691.26 L269.00,695.44 L270.50,728.98 L271.25,737.94 L272.00,743.36 L273.25,749.34 L274.25,752.36 L275.25,754.65 L276.00,756.01 L277.00,756.41 L278.00,756.55 L280.00,759.34 L282.00,758.68 L284.00,760.59 L286.00,760.10 L288.00,761.29 L290.00,761.17 L292.00,760.48 L294.00,762.25 L296.00,762.57 L298.00,761.93 L302.00,762.23 L304.00,761.94 L306.00,763.23 L308.00,762.47 L310.00,762.87 L312.00,762.59 L314.00,762.80 L316.00,762.55 L318.00,764.04 L320.00,763.35 L322.00,764.03 L326.00,763.07 L328.00,763.18 L330.00,762.89 L332.25,762.85 L334.75,761.95 L336.00,761.32 L337.25,759.90 L338.75,757.43 L339.50,755.37 L340.25,752.08 L341.50,742.97 L341.75,741.45 L342.10,740.55 L342.25,740.65 L342.50,741.58 L343.75,750.87 L344.75,755.63 L345.25,757.08 L346.25,759.06 L348.00,761.51 L350.00,763.07 L352.00,761.97 L354.00,762.87 L356.00,762.67 L358.00,761.94 L360.00,763.07 L362.00,762.25 L364.00,761.68 L366.00,760.29 L368.00,759.55 L370.75,755.78 L372.25,752.81 L373.75,747.75 L375.00,741.61 L375.75,736.36 L376.75,726.70 L377.75,710.48 L378.50,689.04 L379.25,653.66 L380.25,585.58 L380.50,572.91 L380.80,566.95 L381.00,569.70 L381.25,580.00 L382.75,674.19 L383.75,707.25 L384.75,724.84 L385.75,735.12 L386.50,740.26 L387.25,743.96 L388.25,747.35 L389.00,749.07 L389.50,749.73 L390.00,749.96 L390.50,749.35 L391.25,747.08 L392.25,742.22 L392.50,741.61 L392.70,741.60 L393.25,743.90 L394.25,750.96 L395.00,754.73 L396.25,758.46 L397.00,760.04 L398.00,761.66 L399.50,762.80 L401.50,763.81 L403.00,764.15 L406.00,764.35 L408.00,766.06 L410.00,766.42 L412.00,766.09 L415.00,766.86 L420.00,767.26 L422.00,766.51 L424.00,767.50 L426.00,765.60 L426.75,765.69 L427.50,765.55 L428.00,765.29 L428.50,764.68 L429.00,764.39 L429.50,764.61 L431.25,766.48 L434.00,768.01 L436.00,768.03 L438.00,766.71 L440.00,766.49 L442.00,767.92 L444.00,766.94 L448.00,767.96 L450.00,766.57 L452.00,766.27 L454.00,767.51 L458.00,766.99 L460.00,766.96 L464.00,765.49 L466.00,765.71 L468.25,764.36 L470.00,763.02 L471.00,762.81 L472.00,762.38 L473.25,760.45 L474.25,758.42 L475.00,756.58 L475.75,754.13 L476.75,748.99 L477.75,740.66 L478.50,730.77 L479.00,721.00 L480.50,672.03 L480.75,665.96 L481.00,663.72 L481.25,665.89 L481.50,671.89 L482.50,707.19 L483.25,726.04 L484.25,740.38 L485.50,750.00 L486.00,752.52 L487.00,755.71 L488.75,759.32 L490.00,761.25 L494.00,764.28 L496.00,762.52 L498.00,763.41 L501.00,761.34 L502.00,760.48 L505.00,755.38 L506.25,752.39 L507.25,748.98 L508.25,743.96 L509.25,736.19 L510.00,727.88 L511.00,711.15 L512.00,681.00 L512.75,641.04 L513.75,563.73 L514.00,549.21 L514.30,542.49 L514.50,545.68 L514.75,557.49 L515.75,634.88 L516.50,677.36 L517.25,703.15 L518.25,723.20 L519.00,732.40 L519.75,738.85 L520.75,745.58 L522.00,751.69 L523.00,754.51 L524.00,756.56 L525.00,758.07 L526.00,759.18 L528.00,762.80 L530.00,765.23 L531.75,765.47 L534.00,765.45 L536.00,765.98 L538.00,767.45 L542.75,766.71 L545.00,765.91 L547.00,764.60 L548.00,763.49 L549.25,760.84 L550.00,758.41 L550.75,754.89 L551.50,749.52 L552.00,744.23 L552.75,731.98 L553.75,708.36 L554.00,703.91 L554.30,702.00 L554.75,706.73 L556.25,739.91 L556.75,746.50 L557.50,753.03 L558.75,759.71 L560.00,763.95 L560.75,764.94 L562.00,765.91 L563.25,767.53 L564.25,768.46 L566.00,769.16 L568.00,768.53 L568.75,768.93 L569.50,769.05 L570.00,768.95 L570.50,768.38 L571.00,768.13 L571.50,768.43 L572.50,769.44 L573.25,769.74 L574.00,769.79 L575.50,770.79 L576.25,771.07 L578.00,771.09 L580.00,769.55 L582.00,771.14 L586.00,770.86 L588.00,769.98 L590.00,770.00 L590.75,769.78 L593.25,768.74 L594.00,768.07 L594.25,767.59 L595.25,764.78 L596.50,758.75 L596.75,757.74 L597.10,757.12 L597.50,757.82 L597.75,758.84 L599.00,764.94 L600.00,767.80 L601.00,768.52 L602.00,768.71 L604.00,769.60 L606.00,769.20 L608.00,771.25 L610.00,771.01 L614.00,771.03 L616.00,770.79 L618.00,770.87 L620.50,770.44 L622.00,769.88 L624.00,768.20 L624.75,768.00 L625.25,768.21 L626.00,769.05 L627.25,770.03 L628.50,770.65 L629.75,770.86 L634.00,770.85 L636.00,772.13 L638.00,771.56 L642.00,771.10 L644.00,770.64 L648.00,771.51 L650.00,770.56 L652.00,770.16 L653.25,769.53 L654.50,768.17 L655.25,766.45 L656.00,763.45 L656.50,760.23 L658.50,742.58 L658.75,741.18 L659.00,740.37 L659.20,740.22 L659.50,740.84 L660.00,743.88 L661.50,757.06 L662.25,762.26 L663.00,766.02 L664.00,768.95 L664.75,769.54 L666.00,769.77 L668.00,771.11 L670.00,771.92 L672.00,771.06 L674.00,770.97 L676.00,771.45 L678.00,771.33 L680.00,770.70 L684.00,771.86 L686.00,770.04 L688.00,768.98 L689.25,767.45 L690.75,764.40 L691.25,762.54 L691.75,759.71 L692.50,752.27 L693.00,744.67 L693.75,728.86 L695.25,689.47 L695.75,681.78 L696.00,680.74 L696.25,681.97 L696.75,690.04 L698.75,740.78 L699.50,752.33 L700.50,761.34 L701.00,764.13 L701.75,766.91 L702.25,768.11 L703.25,769.62 L704.00,770.41 L706.00,770.92 L708.00,771.77 L710.00,772.94 L712.00,771.98 L714.00,771.80 L716.00,771.16 L717.25,771.08 L718.25,770.33 L719.00,769.02 L719.50,767.68 L721.25,760.54 L721.75,759.25 L722.00,759.06 L722.25,759.11 L722.75,760.12 L724.75,767.65 L725.75,770.11 L726.50,771.18 L727.25,771.83 L730.00,773.16 L732.00,773.14 L734.00,773.54 L736.00,773.71 L738.00,773.48 L742.00,773.91 L744.00,773.71 L746.00,773.98 L748.00,774.68 L750.00,773.92 L752.00,773.56 L754.00,772.54 L756.00,773.62 L758.00,772.27 L760.00,772.49 L762.00,773.66 L764.00,773.50 L765.00,773.23 L766.00,772.95 L768.00,772.01 L770.00,772.65 L772.00,772.40 L776.00,773.86 L778.00,772.56 L780.50,771.35 L781.50,770.50 L782.75,768.66 L784.75,763.51 L785.00,763.05 L785.40,762.74 L785.75,762.95 L786.25,763.83 L788.75,769.86 L790.00,771.50 L790.75,771.55 L792.00,771.33 L794.00,772.64 L795.75,772.57 L798.00,772.38 L800.00,771.12 L802.00,770.87 L803.00,770.00 L803.75,769.09 L804.50,767.81 L805.00,766.54 L805.75,763.48 L806.50,758.12 L807.25,749.26 L807.75,741.03 L809.50,705.45 L809.75,702.44 L810.10,700.77 L810.50,702.87 L810.75,706.08 L812.75,746.25 L813.25,753.70 L814.00,761.55 L814.75,765.67 L815.75,768.40 L817.25,770.50 L818.75,771.80 L820.00,772.63 L822.00,771.72 L826.00,773.45 L827.00,773.62 L828.00,773.78 L830.00,773.53 L832.00,774.44 L834.00,774.11 L836.00,773.44 L838.00,773.69 L840.00,774.70 L842.00,774.56 L844.00,773.30 L846.00,775.11 L848.00,774.72 L850.00,775.14 L852.00,774.18 L854.00,774.20 L856.00,773.67 L858.00,775.54 L860.00,773.76 L861.00,773.96 L862.00,773.94 L863.00,772.36 L865.00,767.27 L866.00,763.40 L867.50,756.28 L868.00,754.92 L868.25,754.83 L868.75,755.44 L869.25,756.99 L872.00,769.38 L873.00,771.22 L874.00,772.04 L875.00,773.45 L876.00,774.51 L876.50,774.55 L878.00,774.53 L880.00,773.96 L882.75,774.33 L884.75,774.21 L886.00,773.88 L887.50,772.36 L890.00,768.21 L890.50,767.74 L891.00,767.63 L891.75,768.20 L894.25,771.88 L895.25,772.98 L897.75,774.79 L900.00,775.69 L902.00,774.50 L904.00,775.43 L908.00,774.95 L910.00,775.92 L912.00,774.93 L913.00,775.15 L914.00,775.14 L916.00,772.06 L916.75,771.68 L917.25,771.63 L918.50,772.22 L920.75,774.04 L922.00,774.67 L924.00,776.00 L926.00,775.79 L928.00,776.32 L930.00,776.04 L932.00,775.53 L934.00,776.13 L936.00,776.26 L938.00,776.81 L940.00,775.82 L942.00,776.34 L944.00,775.45 L946.00,776.80 L948.00,775.88 L950.00,775.51 L952.00,776.50 L954.00,777.16 L956.00,775.72 L958.25,775.92 L960.00,775.87 L962.00,774.94 L964.00,774.77 L964.75,774.42 L965.50,774.35 L966.00,774.42 L970.00,776.91 L972.00,776.40 L974.00,777.15 L976.00,776.45 L978.00,776.37 L980.00,776.08 L982.00,778.16 L984.00,777.00 L986.00,777.35 L988.00,777.24 L992.00,777.36 L994.00,778.42 L996.00,776.84 L998.00,776.59 L1000.00,776.93 L1002.00,776.73 L1004.00,777.81 L1005.25,777.79 L1006.00,777.78 L1008.00,776.73 L1010.00,776.41 L1012.00,776.88 L1014.00,777.71 L1016.00,775.09 L1018.00,776.19 L1020.00,774.38 L1021.00,774.89 L1022.00,775.78 L1024.00,775.45 L1026.00,776.29 L1028.00,775.71 L1030.00,775.98 L1032.00,777.28 L1034.00,777.00 L1036.00,776.36 L1038.00,776.12 L1040.00,775.58 L1042.00,776.42 L1044.00,776.64 L1048.00,776.61 L1050.00,776.03 L1052.00,776.53 L1054.00,776.31 L1056.00,776.48 L1058.00,775.94 L1060.00,774.11 L1061.50,773.84 L1062.00,773.88 L1064.00,775.10 L1065.25,775.47 L1070.00,776.68 L1072.00,776.21 L1074.00,777.13 L1076.00,776.69 L1078.00,776.70 L1079.50,776.18 L1081.25,775.10 L1084.25,772.49 L1085.50,771.84 L1086.75,771.58 L1088.00,771.94 L1090.00,774.01 L1092.00,775.42 L1094.00,775.53 L1096.00,776.59 L1098.00,775.64 L1099.75,775.30 L1101.00,774.45 L1102.00,773.35 L1104.00,769.12 L1105.50,767.59 L1106.50,766.97 L1107.00,766.85 L1107.75,767.16 L1108.50,767.93 L1111.75,773.11 L1113.00,774.69 L1114.00,775.58 L1118.00,776.94 L1120.00,776.94 L1122.00,777.38 L1124.00,776.74 L1126.00,777.58 L1132.00,777.30 L1134.00,777.86 L1136.00,776.66 L1138.00,777.84 L1140.00,777.73 L1144.00,777.82 L1146.00,777.25 L1148.00,777.47 L1150.00,777.97 L1154.00,777.72 L1156.00,776.77 L1158.00,777.87 L1160.00,778.16 L1160.75,778.09 L1162.00,777.91 L1164.00,777.04 L1166.00,775.12 L1168.00,775.17 L1169.25,774.07 L1170.50,773.22 L1172.00,772.66 L1174.00,775.56 L1176.00,775.73 L1180.00,777.17 L1182.00,778.32 L1184.00,777.47 L1186.00,777.85 L1188.00,778.68 L1190.00,778.62 L1192.00,777.70 L1194.00,777.63 L1196.00,777.08 L1198.00,777.40 L1200.00,778.02 L1204.00,777.86 L1206.00,778.34 L1208.00,777.36 L1212.00,778.18 L1214.00,778.09 L1216.00,778.35 L1220.00,777.57 L1222.00,777.93 L1224.00,777.17 L1226.00,776.80 L1228.00,778.00 L1230.00,777.62 L1232.00,777.78 L1234.00,776.60 L1236.00,777.14 L1237.25,776.79 L1238.75,776.11 L1240.00,775.26 L1242.00,772.92 L1243.50,772.68 L1245.00,773.04 L1248.25,775.13 L1250.00,775.87 L1251.75,776.90 L1254.00,777.78 L1256.00,775.95 L1258.00,777.43 L1260.00,777.81 L1262.00,777.87 L1264.00,778.40 L1266.00,778.02 L1271.25,776.38 L1272.00,775.96 L1274.00,773.43 L1275.50,772.33 L1276.50,772.06 L1277.25,772.24 L1278.00,772.72 L1280.00,774.97 L1282.00,775.54 L1283.00,776.19 L1284.25,776.75 L1288.00,777.81 L1290.00,776.70 L1292.00,776.90 L1294.00,774.98 L1295.25,775.16 L1297.75,775.94 L1300.00,777.23 L1302.00,777.79 L1304.00,776.57 L1305.00,776.78" stroke="#1c6edd" stroke-width="7.5" stroke-linejoin="round"/>
<path d="M26.00,742.50 L28.00,743.06 L32.00,743.21 L34.00,743.85 L36.00,743.96 L40.00,746.04 L42.00,745.21 L44.00,745.32 L46.00,746.11 L48.00,746.22 L50.00,746.26 L52.00,745.70 L56.00,746.63 L58.00,745.52 L60.00,746.02 L62.00,745.24 L64.00,745.59 L66.00,745.30 L68.00,746.20 L70.00,745.64 L72.00,746.50 L74.00,746.44 L76.00,746.27 L78.00,744.99 L80.00,746.09 L82.00,746.37 L84.00,746.46 L86.00,745.65 L88.00,746.33 L90.00,746.14 L92.00,746.32 L94.00,747.44 L96.00,746.49 L100.00,747.58 L102.00,746.84 L105.75,747.30 L108.00,747.33 L110.00,746.64 L114.00,747.99 L116.00,746.37 L118.00,747.67 L120.25,747.01 L122.00,746.25 L124.00,746.81 L125.75,744.65 L126.75,742.61 L127.75,739.59 L128.75,735.43 L129.75,727.61 L131.00,709.17 L131.25,706.03 L131.60,704.23 L132.00,706.77 L133.50,728.72 L134.00,733.36 L134.75,738.31 L135.50,741.57 L136.50,744.27 L137.25,745.52 L138.50,747.12 L140.25,749.00 L142.00,750.39 L144.00,749.92 L146.00,750.89 L148.00,750.89 L150.00,751.51 L152.00,751.02 L156.00,751.93 L158.00,752.67 L160.00,752.93 L162.00,751.67 L164.00,752.04 L166.00,752.89 L168.00,751.46 L170.00,752.29 L172.00,752.44 L174.00,753.08 L178.00,752.06 L182.00,751.62 L184.00,751.86 L187.75,747.39 L189.00,745.21 L190.00,742.63 L191.00,738.54 L191.75,734.22 L193.00,722.89 L193.75,711.32 L194.50,692.54 L196.25,611.01 L196.60,604.95 L197.00,613.20 L198.00,665.39 L198.75,695.15 L199.50,713.42 L200.25,725.00 L201.50,737.07 L202.00,740.39 L203.00,744.93 L204.00,748.13 L205.00,750.41 L206.75,753.31 L207.75,754.45 L208.00,754.66 L209.00,754.86 L210.00,754.70 L210.75,754.76 L211.50,754.40 L212.00,753.80 L213.50,749.18 L213.90,748.66 L214.25,749.17 L216.00,755.13 L216.75,756.10 L218.00,756.77 L220.00,758.74 L222.00,758.19 L224.00,758.35 L226.00,759.52 L228.00,759.34 L230.00,760.02 L232.00,761.22 L234.00,759.55 L236.00,759.67 L238.00,760.10 L240.00,760.22 L242.00,759.78 L244.00,759.68 L246.00,760.05 L248.00,759.79 L250.00,758.82 L252.00,759.15 L254.00,758.91 L256.00,757.82 L258.00,757.76 L260.00,755.82 L261.00,755.31 L261.75,754.69 L262.25,753.93 L263.00,752.22 L264.25,748.07 L265.00,744.29 L265.75,738.52 L266.75,724.78 L268.00,695.28 L268.25,691.18 L268.50,689.71 L268.75,691.26 L269.00,695.44 L270.50,728.98 L271.25,737.94 L272.00,743.36 L273.25,749.34 L274.25,752.36 L275.25,754.65 L276.00,756.01 L277.00,756.41 L278.00,756.55 L280.00,759.34 L282.00,758.68 L284.00,760.59 L286.00,760.10 L288.00,761.29 L290.00,761.17 L292.00,760.48 L294.00,762.25 L296.00,762.57 L298.00,761.93 L302.00,762.23 L304.00,761.94 L306.00,763.23 L308.00,762.47 L310.00,762.87 L312.00,762.59 L314.00,762.80 L316.00,762.55 L318.00,764.04 L320.00,763.35 L322.00,764.03 L326.00,763.07 L328.00,763.18 L330.00,762.89 L332.25,762.85 L334.75,761.95 L336.00,761.32 L337.25,759.90 L338.75,757.43 L339.50,755.37 L340.25,752.08 L341.50,742.97 L341.75,741.45 L342.10,740.55 L342.25,740.65 L342.50,741.58 L343.75,750.87 L344.75,755.63 L345.25,757.08 L346.25,759.06 L348.00,761.51 L350.00,763.07 L352.00,761.97 L354.00,762.87 L356.00,762.67 L358.00,761.94 L360.00,763.07 L362.00,762.25 L364.00,761.68 L366.00,760.29 L368.00,759.55 L370.75,755.78 L372.25,752.81 L373.75,747.75 L375.00,741.61 L375.75,736.36 L376.75,726.70 L377.75,710.48 L378.50,689.04 L379.25,653.66 L380.25,585.58 L380.50,572.91 L380.80,566.95 L381.00,569.70 L381.25,580.00 L382.75,674.19 L383.75,707.25 L384.75,724.84 L385.75,735.12 L386.50,740.26 L387.25,743.96 L388.25,747.35 L389.00,749.07 L389.50,749.73 L390.00,749.96 L390.50,749.35 L391.25,747.08 L392.25,742.22 L392.50,741.61 L392.70,741.60 L393.25,743.90 L394.25,750.96 L395.00,754.73 L396.25,758.46 L397.00,760.04 L398.00,761.66 L399.50,762.80 L401.50,763.81 L403.00,764.15 L406.00,764.35 L408.00,766.06 L410.00,766.42 L412.00,766.09 L415.00,766.86 L420.00,767.26 L422.00,766.51 L424.00,767.50 L426.00,765.60 L426.75,765.69 L427.50,765.55 L428.00,765.29 L428.50,764.68 L429.00,764.39 L429.50,764.61 L431.25,766.48 L434.00,768.01 L436.00,768.03 L438.00,766.71 L440.00,766.49 L442.00,767.92 L444.00,766.94 L448.00,767.96 L450.00,766.57 L452.00,766.27 L454.00,767.51 L458.00,766.99 L460.00,766.96 L464.00,765.49 L466.00,765.71 L468.25,764.36 L470.00,763.02 L471.00,762.81 L472.00,762.38 L473.25,760.45 L474.25,758.42 L475.00,756.58 L475.75,754.13 L476.75,748.99 L477.75,740.66 L478.50,730.77 L479.00,721.00 L480.50,672.03 L480.75,665.96 L481.00,663.72 L481.25,665.89 L481.50,671.89 L482.50,707.19 L483.25,726.04 L484.25,740.38 L485.50,750.00 L486.00,752.52 L487.00,755.71 L488.75,759.32 L490.00,761.25 L494.00,764.28 L496.00,762.52 L498.00,763.41 L501.00,761.34 L502.00,760.48 L505.00,755.38 L506.25,752.39 L507.25,748.98 L508.25,743.96 L509.25,736.19 L510.00,727.88 L511.00,711.15 L512.00,681.00 L512.75,641.04 L513.75,563.73 L514.00,549.21 L514.30,542.49 L514.50,545.68 L514.75,557.49 L515.75,634.88 L516.50,677.36 L517.25,703.15 L518.25,723.20 L519.00,732.40 L519.75,738.85 L520.75,745.58 L522.00,751.69 L523.00,754.51 L524.00,756.56 L525.00,758.07 L526.00,759.18 L528.00,762.80 L530.00,765.23 L531.75,765.47 L534.00,765.45 L536.00,765.98 L538.00,767.45 L542.75,766.71 L545.00,765.91 L547.00,764.60 L548.00,763.49 L549.25,760.84 L550.00,758.41 L550.75,754.89 L551.50,749.52 L552.00,744.23 L552.75,731.98 L553.75,708.36 L554.00,703.91 L554.30,702.00 L554.75,706.73 L556.25,739.91 L556.75,746.50 L557.50,753.03 L558.75,759.71 L560.00,763.95 L560.75,764.94 L562.00,765.91 L563.25,767.53 L564.25,768.46 L566.00,769.16 L568.00,768.53 L568.75,768.93 L569.50,769.05 L570.00,768.95 L570.50,768.38 L571.00,768.13 L571.50,768.43 L572.50,769.44 L573.25,769.74 L574.00,769.79 L575.50,770.79 L576.25,771.07 L578.00,771.09 L580.00,769.55 L582.00,771.14 L586.00,770.86 L588.00,769.98 L590.00,770.00 L590.75,769.78 L593.25,768.74 L594.00,768.07 L594.25,767.59 L595.25,764.78 L596.50,758.75 L596.75,757.74 L597.10,757.12 L597.50,757.82 L597.75,758.84 L599.00,764.94 L600.00,767.80 L601.00,768.52 L602.00,768.71 L604.00,769.60 L606.00,769.20 L608.00,771.25 L610.00,771.01 L614.00,771.03 L616.00,770.79 L618.00,770.87 L620.50,770.44 L622.00,769.88 L624.00,768.20 L624.75,768.00 L625.25,768.21 L626.00,769.05 L627.25,770.03 L628.50,770.65 L629.75,770.86 L634.00,770.85 L636.00,772.13 L638.00,771.56 L642.00,771.10 L644.00,770.64 L648.00,771.51 L650.00,770.56 L652.00,770.16 L653.25,769.53 L654.50,768.17 L655.25,766.45 L656.00,763.45 L656.50,760.23 L658.50,742.58 L658.75,741.18 L659.00,740.37 L659.20,740.22 L659.50,740.84 L660.00,743.88 L661.50,757.06 L662.25,762.26 L663.00,766.02 L664.00,768.95 L664.75,769.54 L666.00,769.77 L668.00,771.11 L670.00,771.92 L672.00,771.06 L674.00,770.97 L676.00,771.45 L678.00,771.33 L680.00,770.70 L684.00,771.86 L686.00,770.04 L688.00,768.98 L689.25,767.45 L690.75,764.40 L691.25,762.54 L691.75,759.71 L692.50,752.27 L693.00,744.67 L693.75,728.86 L695.25,689.47 L695.75,681.78 L696.00,680.74 L696.25,681.97 L696.75,690.04 L698.75,740.78 L699.50,752.33 L700.50,761.34 L701.00,764.13 L701.75,766.91 L702.25,768.11 L703.25,769.62 L704.00,770.41 L706.00,770.92 L708.00,771.77 L710.00,772.94 L712.00,771.98 L714.00,771.80 L716.00,771.16 L717.25,771.08 L718.25,770.33 L719.00,769.02 L719.50,767.68 L721.25,760.54 L721.75,759.25 L722.00,759.06 L722.25,759.11 L722.75,760.12 L724.75,767.65 L725.75,770.11 L726.50,771.18 L727.25,771.83 L730.00,773.16 L732.00,773.14 L734.00,773.54 L736.00,773.71 L738.00,773.48 L742.00,773.91 L744.00,773.71 L746.00,773.98 L748.00,774.68 L750.00,773.92 L752.00,773.56 L754.00,772.54 L756.00,773.62 L758.00,772.27 L760.00,772.49 L762.00,773.66 L764.00,773.50 L765.00,773.23 L766.00,772.95 L768.00,772.01 L770.00,772.65 L772.00,772.40 L776.00,773.86 L778.00,772.56 L780.50,771.35 L781.50,770.50 L782.75,768.66 L784.75,763.51 L785.00,763.05 L785.40,762.74 L785.75,762.95 L786.25,763.83 L788.75,769.86 L790.00,771.50 L790.75,771.55 L792.00,771.33 L794.00,772.64 L795.75,772.57 L798.00,772.38 L800.00,771.12 L802.00,770.87 L803.00,770.00 L803.75,769.09 L804.50,767.81 L805.00,766.54 L805.75,763.48 L806.50,758.12 L807.25,749.26 L807.75,741.03 L809.50,705.45 L809.75,702.44 L810.10,700.77 L810.50,702.87 L810.75,706.08 L812.75,746.25 L813.25,753.70 L814.00,761.55 L814.75,765.67 L815.75,768.40 L817.25,770.50 L818.75,771.80 L820.00,772.63 L822.00,771.72 L826.00,773.45 L827.00,773.62 L828.00,773.78 L830.00,773.53 L832.00,774.44 L834.00,774.11 L836.00,773.44 L838.00,773.69 L840.00,774.70 L842.00,774.56 L844.00,773.30 L846.00,775.11 L848.00,774.72 L850.00,775.14 L852.00,774.18 L854.00,774.20 L856.00,773.67 L858.00,775.54 L860.00,773.76 L861.00,773.96 L862.00,773.94 L863.00,772.36 L865.00,767.27 L866.00,763.40 L867.50,756.28 L868.00,754.92 L868.25,754.83 L868.75,755.44 L869.25,756.99 L872.00,769.38 L873.00,771.22 L874.00,772.04 L875.00,773.45 L876.00,774.51 L876.50,774.55 L878.00,774.53 L880.00,773.96 L882.75,774.33 L884.75,774.21 L886.00,773.88 L887.50,772.36 L890.00,768.21 L890.50,767.74 L891.00,767.63 L891.75,768.20 L894.25,771.88 L895.25,772.98 L897.75,774.79 L900.00,775.69 L902.00,774.50 L904.00,775.43 L908.00,774.95 L910.00,775.92 L912.00,774.93 L913.00,775.15 L914.00,775.14 L916.00,772.06 L916.75,771.68 L917.25,771.63 L918.50,772.22 L920.75,774.04 L922.00,774.67 L924.00,776.00 L926.00,775.79 L928.00,776.32 L930.00,776.04 L932.00,775.53 L934.00,776.13 L936.00,776.26 L938.00,776.81 L940.00,775.82 L942.00,776.34 L944.00,775.45 L946.00,776.80 L948.00,775.88 L950.00,775.51 L952.00,776.50 L954.00,777.16 L956.00,775.72 L958.25,775.92 L960.00,775.87 L962.00,774.94 L964.00,774.77 L964.75,774.42 L965.50,774.35 L966.00,774.42 L970.00,776.91 L972.00,776.40 L974.00,777.15 L976.00,776.45 L978.00,776.37 L980.00,776.08 L982.00,778.16 L984.00,777.00 L986.00,777.35 L988.00,777.24 L992.00,777.36 L994.00,778.42 L996.00,776.84 L998.00,776.59 L1000.00,776.93 L1002.00,776.73 L1004.00,777.81 L1005.25,777.79 L1006.00,777.78 L1008.00,776.73 L1010.00,776.41 L1012.00,776.88 L1014.00,777.71 L1016.00,775.09 L1018.00,776.19 L1020.00,774.38 L1021.00,774.89 L1022.00,775.78 L1024.00,775.45 L1026.00,776.29 L1028.00,775.71 L1030.00,775.98 L1032.00,777.28 L1034.00,777.00 L1036.00,776.36 L1038.00,776.12 L1040.00,775.58 L1042.00,776.42 L1044.00,776.64 L1048.00,776.61 L1050.00,776.03 L1052.00,776.53 L1054.00,776.31 L1056.00,776.48 L1058.00,775.94 L1060.00,774.11 L1061.50,773.84 L1062.00,773.88 L1064.00,775.10 L1065.25,775.47 L1070.00,776.68 L1072.00,776.21 L1074.00,777.13 L1076.00,776.69 L1078.00,776.70 L1079.50,776.18 L1081.25,775.10 L1084.25,772.49 L1085.50,771.84 L1086.75,771.58 L1088.00,771.94 L1090.00,774.01 L1092.00,775.42 L1094.00,775.53 L1096.00,776.59 L1098.00,775.64 L1099.75,775.30 L1101.00,774.45 L1102.00,773.35 L1104.00,769.12 L1105.50,767.59 L1106.50,766.97 L1107.00,766.85 L1107.75,767.16 L1108.50,767.93 L1111.75,773.11 L1113.00,774.69 L1114.00,775.58 L1118.00,776.94 L1120.00,776.94 L1122.00,777.38 L1124.00,776.74 L1126.00,777.58 L1132.00,777.30 L1134.00,777.86 L1136.00,776.66 L1138.00,777.84 L1140.00,777.73 L1144.00,777.82 L1146.00,777.25 L1148.00,777.47 L1150.00,777.97 L1154.00,777.72 L1156.00,776.77 L1158.00,777.87 L1160.00,778.16 L1160.75,778.09 L1162.00,777.91 L1164.00,777.04 L1166.00,775.12 L1168.00,775.17 L1169.25,774.07 L1170.50,773.22 L1172.00,772.66 L1174.00,775.56 L1176.00,775.73 L1180.00,777.17 L1182.00,778.32 L1184.00,777.47 L1186.00,777.85 L1188.00,778.68 L1190.00,778.62 L1192.00,777.70 L1194.00,777.63 L1196.00,777.08 L1198.00,777.40 L1200.00,778.02 L1204.00,777.86 L1206.00,778.34 L1208.00,777.36 L1212.00,778.18 L1214.00,778.09 L1216.00,778.35 L1220.00,777.57 L1222.00,777.93 L1224.00,777.17 L1226.00,776.80 L1228.00,778.00 L1230.00,777.62 L1232.00,777.78 L1234.00,776.60 L1236.00,777.14 L1237.25,776.79 L1238.75,776.11 L1240.00,775.26 L1242.00,772.92 L1243.50,772.68 L1245.00,773.04 L1248.25,775.13 L1250.00,775.87 L1251.75,776.90 L1254.00,777.78 L1256.00,775.95 L1258.00,777.43 L1260.00,777.81 L1262.00,777.87 L1264.00,778.40 L1266.00,778.02 L1271.25,776.38 L1272.00,775.96 L1274.00,773.43 L1275.50,772.33 L1276.50,772.06 L1277.25,772.24 L1278.00,772.72 L1280.00,774.97 L1282.00,775.54 L1283.00,776.19 L1284.25,776.75 L1288.00,777.81 L1290.00,776.70 L1292.00,776.90 L1294.00,774.98 L1295.25,775.16 L1297.75,775.94 L1300.00,777.23 L1302.00,777.79 L1304.00,776.57 L1305.00,776.78" stroke="#1c6edd" stroke-width="5" stroke-linejoin="round"/>
<path d="M26.00,990.49 L30.00,990.23 L32.00,992.02 L34.00,992.11 L36.00,992.49 L38.00,992.34 L40.00,993.22 L42.00,992.57 L44.00,993.36 L46.00,992.31 L48.00,992.39 L50.00,993.03 L52.00,992.58 L54.00,993.39 L56.00,993.22 L58.00,992.62 L60.00,993.21 L62.00,993.03 L64.00,993.77 L66.00,992.97 L68.00,993.12 L70.00,994.07 L72.00,994.68 L74.00,994.59 L76.00,993.57 L78.00,993.70 L80.00,994.46 L82.00,993.59 L84.00,993.16 L86.00,993.80 L88.00,994.02 L90.00,993.35 L92.00,992.93 L94.00,993.07 L96.00,994.25 L98.00,993.52 L104.00,994.48 L106.00,994.00 L108.00,994.50 L110.00,993.75 L112.00,994.02 L114.00,993.64 L116.00,994.79 L120.00,993.37 L122.50,992.87 L124.75,991.71 L126.00,990.59 L127.25,987.38 L128.50,982.49 L129.25,977.75 L129.75,972.95 L131.00,954.10 L131.25,950.89 L131.60,949.06 L132.00,951.64 L133.50,975.44 L134.00,980.65 L134.75,985.15 L135.50,987.93 L136.75,990.68 L139.00,993.54 L141.25,995.78 L142.00,996.43 L144.00,995.92 L146.00,996.39 L148.00,997.68 L150.00,997.62 L152.00,998.07 L154.00,997.79 L156.00,999.46 L158.00,999.66 L160.00,999.32 L162.00,999.65 L164.00,998.41 L166.00,1000.10 L168.00,999.84 L170.00,1000.35 L172.00,1000.61 L174.00,1000.12 L176.00,999.37 L178.00,1000.59 L180.00,999.92 L182.00,999.87 L184.75,998.81 L186.00,998.09 L188.00,994.87 L189.00,994.16 L189.75,993.22 L190.00,992.80 L190.75,990.25 L191.50,986.96 L192.50,981.03 L193.25,974.63 L193.75,968.71 L194.50,955.77 L195.25,934.59 L196.75,859.25 L197.00,850.96 L197.20,848.72 L197.50,853.44 L197.75,863.54 L199.25,937.50 L200.00,957.43 L200.75,970.29 L202.00,983.14 L203.25,990.31 L204.50,995.02 L205.50,997.84 L207.00,1000.88 L208.00,1002.05 L209.00,1002.14 L210.00,1001.90 L211.00,1002.49 L212.00,1002.51 L213.00,1000.32 L214.25,995.51 L214.75,994.47 L215.00,994.61 L215.25,995.24 L216.50,1000.73 L217.50,1003.32 L218.25,1004.42 L219.00,1005.17 L220.50,1006.11 L222.00,1006.77 L226.00,1007.18 L228.00,1006.75 L232.00,1008.80 L234.00,1008.87 L238.00,1008.07 L240.00,1007.23 L242.00,1008.29 L244.00,1007.33 L248.00,1006.84 L250.00,1006.95 L252.00,1006.49 L254.00,1006.41 L256.00,1005.44 L258.00,1005.16 L260.00,1005.52 L263.00,1000.75 L264.25,997.92 L265.25,994.51 L266.25,988.72 L267.00,981.27 L267.50,973.80 L269.00,937.95 L269.40,933.86 L269.75,936.73 L270.00,941.77 L270.75,961.57 L271.50,976.63 L272.00,983.34 L272.75,990.21 L273.75,995.94 L274.25,997.84 L275.00,999.85 L276.75,1002.86 L280.00,1006.51 L282.00,1006.22 L284.00,1007.28 L286.00,1007.40 L288.00,1008.85 L290.00,1007.22 L292.00,1008.18 L294.00,1008.52 L296.00,1009.41 L298.00,1009.60 L300.00,1010.23 L302.00,1008.79 L304.00,1010.24 L306.00,1009.83 L308.00,1009.79 L310.00,1010.60 L314.00,1009.43 L316.00,1010.50 L318.00,1009.99 L322.00,1011.20 L324.00,1011.19 L326.00,1011.87 L330.00,1009.97 L332.00,1010.15 L333.50,1009.78 L337.50,1008.04 L338.00,1007.64 L338.75,1006.10 L339.50,1003.84 L340.00,1001.67 L341.75,988.79 L342.10,987.84 L342.50,989.35 L343.75,999.76 L344.50,1003.64 L345.00,1005.20 L345.75,1006.74 L346.75,1008.21 L347.75,1009.24 L348.75,1009.82 L352.00,1010.99 L354.00,1010.87 L356.00,1011.58 L358.00,1011.06 L362.00,1010.48 L364.00,1008.89 L366.00,1008.76 L368.50,1007.11 L370.00,1005.76 L372.00,1001.77 L373.25,999.81 L374.00,998.04 L375.00,993.41 L375.75,988.82 L376.50,982.83 L377.25,974.66 L378.00,962.94 L378.50,952.06 L379.25,927.73 L380.00,888.08 L381.00,819.65 L381.40,809.08 L381.75,817.51 L382.00,831.75 L383.25,914.68 L384.25,951.13 L385.25,970.28 L386.25,981.47 L387.00,987.22 L387.75,991.41 L388.50,994.26 L389.25,996.08 L389.75,996.83 L390.50,997.45 L391.00,997.33 L391.25,997.04 L392.00,995.00 L393.00,990.39 L393.30,990.12 L393.75,991.60 L395.00,1000.03 L395.75,1003.53 L396.75,1006.57 L398.25,1009.46 L400.00,1011.91 L402.00,1011.18 L404.00,1012.34 L406.00,1012.76 L408.00,1014.14 L410.00,1013.47 L414.00,1014.67 L416.00,1014.34 L418.00,1014.46 L420.00,1014.80 L422.00,1013.92 L426.00,1014.37 L427.25,1013.86 L428.50,1012.61 L429.00,1012.31 L429.50,1012.55 L430.75,1013.58 L432.00,1013.80 L433.75,1014.90 L436.00,1015.95 L438.00,1015.95 L442.00,1015.28 L444.00,1016.14 L446.00,1015.48 L448.00,1015.16 L450.00,1015.35 L452.00,1016.56 L454.00,1015.83 L456.00,1016.27 L458.00,1015.25 L460.00,1015.87 L462.00,1014.80 L464.00,1014.74 L466.00,1015.76 L470.00,1012.56 L471.25,1011.88 L472.50,1010.92 L473.50,1009.85 L474.50,1008.46 L476.00,1005.33 L477.50,998.55 L478.75,988.55 L479.50,978.30 L480.00,968.19 L481.50,919.08 L481.75,913.06 L482.00,910.91 L482.25,913.15 L482.50,919.28 L483.50,955.19 L484.25,974.33 L485.00,985.99 L485.50,991.21 L486.25,996.85 L487.00,1000.92 L488.00,1004.76 L489.00,1006.87 L490.50,1008.98 L492.00,1010.60 L494.00,1010.56 L496.00,1012.00 L498.00,1012.54 L501.00,1010.50 L502.50,1009.20 L505.00,1006.37 L506.00,1004.80 L507.50,999.34 L509.25,990.80 L510.25,983.16 L511.00,974.82 L512.00,957.53 L513.00,926.22 L513.75,884.82 L514.75,804.33 L515.00,789.18 L515.30,781.97 L515.50,785.14 L515.75,797.24 L517.00,894.49 L517.75,932.31 L518.75,960.88 L520.00,979.84 L521.00,989.08 L522.00,995.42 L523.25,1000.70 L524.50,1004.22 L527.50,1009.52 L528.50,1010.89 L530.00,1012.52 L532.00,1012.69 L536.00,1014.94 L538.00,1014.37 L540.00,1015.21 L542.00,1014.39 L544.00,1015.08 L545.00,1014.93 L546.00,1014.57 L547.00,1013.50 L548.00,1012.00 L549.50,1007.55 L550.50,1003.27 L551.00,1000.37 L552.00,990.93 L552.75,977.91 L553.75,952.72 L554.00,947.99 L554.30,945.79 L554.50,946.82 L554.75,950.66 L555.75,975.82 L556.50,989.93 L557.25,998.77 L558.00,1004.46 L559.00,1008.24 L562.00,1015.18 L563.00,1015.96 L564.00,1016.47 L566.00,1018.09 L567.25,1017.83 L568.50,1017.26 L569.25,1016.64 L570.25,1015.42 L570.75,1015.08 L571.25,1015.28 L572.75,1017.56 L574.00,1018.67 L576.00,1018.93 L578.00,1019.46 L580.00,1019.02 L582.00,1018.16 L584.00,1019.78 L586.00,1019.55 L590.00,1018.55 L592.00,1018.28 L593.50,1016.43 L594.75,1014.03 L595.50,1011.57 L596.75,1005.87 L597.10,1005.34 L597.50,1006.13 L599.00,1013.22 L600.00,1016.01 L601.00,1016.58 L602.00,1016.61 L604.00,1018.82 L606.00,1018.18 L608.00,1018.11 L610.00,1019.49 L614.00,1018.40 L618.00,1019.77 L620.00,1019.82 L621.00,1019.15 L624.25,1016.34 L625.00,1016.05 L625.50,1016.29 L627.00,1017.70 L628.75,1019.02 L630.00,1019.80 L634.00,1019.71 L639.00,1020.23 L640.00,1020.20 L642.00,1019.81 L644.00,1019.80 L646.00,1020.51 L648.00,1019.81 L650.00,1019.84 L652.00,1019.40 L653.25,1018.43 L654.50,1016.86 L655.25,1015.12 L655.75,1013.16 L656.75,1005.63 L658.50,986.89 L658.75,985.26 L659.00,984.31 L659.20,984.13 L659.50,984.86 L659.75,986.32 L661.50,1003.57 L662.50,1011.24 L663.50,1015.94 L664.00,1017.39 L664.50,1018.15 L665.25,1018.86 L666.00,1019.29 L668.00,1017.93 L672.00,1019.82 L673.75,1019.92 L676.00,1019.98 L678.00,1019.54 L680.00,1019.77 L682.00,1019.73 L684.00,1019.03 L686.00,1019.10 L688.00,1016.28 L688.75,1016.27 L689.50,1016.05 L690.00,1015.71 L690.25,1015.14 L691.00,1012.92 L691.50,1010.73 L692.50,1003.63 L693.25,994.02 L693.75,984.60 L695.75,930.08 L696.00,925.63 L696.40,922.71 L696.75,924.86 L697.25,934.44 L698.75,977.11 L699.50,993.33 L700.25,1003.83 L701.00,1009.69 L701.50,1012.02 L702.25,1014.23 L703.00,1015.70 L704.00,1016.97 L705.00,1017.65 L706.00,1018.10 L708.00,1019.78 L710.00,1020.57 L712.00,1021.11 L714.00,1020.55 L716.00,1021.10 L717.50,1020.29 L718.75,1019.14 L719.50,1017.84 L720.00,1016.57 L722.00,1009.26 L722.50,1008.05 L722.75,1007.86 L723.00,1008.00 L723.50,1009.18 L725.50,1016.51 L726.50,1018.72 L727.25,1019.74 L728.00,1020.33 L728.75,1020.68 L731.25,1021.30 L732.00,1021.43 L734.00,1021.05 L736.00,1022.21 L738.00,1021.50 L740.00,1022.03 L742.00,1021.35 L744.00,1022.00 L746.00,1022.02 L748.00,1021.56 L750.00,1022.89 L752.00,1021.97 L754.00,1022.73 L756.00,1022.26 L758.00,1021.34 L760.00,1021.47 L762.00,1021.89 L766.00,1021.62 L768.00,1021.39 L770.00,1020.51 L772.00,1021.41 L774.00,1020.33 L776.00,1021.74 L778.00,1021.07 L781.25,1020.75 L782.50,1020.08 L783.50,1018.72 L784.00,1017.65 L785.75,1011.83 L786.00,1011.26 L786.40,1010.93 L786.75,1011.13 L787.25,1012.10 L789.00,1017.26 L790.00,1019.25 L790.75,1019.81 L792.00,1020.06 L794.00,1020.93 L796.00,1022.35 L798.00,1020.73 L800.00,1021.31 L802.00,1019.51 L803.00,1019.41 L804.00,1019.04 L805.25,1016.97 L806.25,1013.70 L807.00,1009.14 L807.50,1004.35 L808.50,989.14 L810.25,951.39 L810.50,948.02 L810.90,945.91 L811.25,947.76 L811.50,951.03 L813.75,997.32 L814.50,1006.80 L815.50,1013.90 L816.00,1015.87 L816.75,1017.51 L820.00,1021.08 L822.00,1021.37 L824.00,1022.42 L826.00,1022.25 L828.00,1023.44 L830.00,1021.56 L832.00,1022.61 L834.00,1023.36 L836.00,1022.77 L838.00,1022.60 L840.00,1022.96 L842.00,1022.41 L844.00,1023.28 L846.00,1024.60 L848.00,1023.92 L850.00,1022.70 L854.00,1023.09 L856.00,1023.82 L858.00,1022.72 L860.00,1022.60 L862.00,1023.01 L862.50,1022.80 L863.25,1022.32 L864.00,1021.53 L865.00,1019.42 L866.25,1015.18 L868.25,1006.10 L868.75,1004.53 L869.30,1003.84 L869.75,1004.22 L870.25,1005.63 L872.00,1013.73 L872.75,1016.30 L873.50,1018.18 L875.50,1022.16 L876.00,1022.90 L878.00,1022.81 L882.00,1024.57 L884.00,1024.13 L886.00,1022.35 L887.00,1022.22 L888.00,1021.60 L890.75,1016.59 L891.25,1015.98 L891.75,1015.83 L892.00,1015.92 L892.50,1016.60 L894.75,1020.93 L896.00,1022.74 L897.00,1023.01 L898.00,1022.98 L900.00,1025.02 L902.00,1023.06 L904.00,1023.89 L906.00,1024.43 L910.00,1024.75 L912.00,1024.73 L914.00,1024.06 L916.00,1023.79 L917.25,1021.97 L918.00,1021.16 L918.75,1021.78 L920.00,1023.27 L922.00,1024.00 L924.00,1024.97 L926.00,1025.21 L928.00,1024.68 L930.00,1024.91 L932.00,1025.76 L934.00,1025.57 L936.00,1025.06 L938.00,1026.60 L940.00,1026.80 L942.00,1024.77 L944.00,1025.78 L946.00,1027.02 L948.00,1026.10 L954.00,1025.43 L956.00,1025.62 L958.00,1025.41 L960.00,1025.98 L962.00,1024.90 L964.50,1024.08 L965.25,1023.97 L966.00,1024.02 L968.00,1025.36 L970.00,1025.29 L974.00,1026.56 L976.00,1026.24 L978.00,1026.35 L986.00,1026.03 L988.00,1026.64 L990.00,1025.66 L992.00,1027.02 L994.00,1026.33 L996.00,1025.92 L998.00,1026.09 L1000.00,1026.02 L1002.00,1026.43 L1004.00,1025.84 L1006.00,1026.75 L1008.00,1025.58 L1010.00,1024.64 L1012.00,1025.36 L1014.00,1024.50 L1016.00,1025.32 L1018.00,1025.46 L1020.00,1024.82 L1022.00,1023.92 L1024.00,1024.49 L1026.00,1025.93 L1028.00,1025.07 L1030.00,1024.80 L1034.00,1026.22 L1038.00,1025.01 L1042.00,1025.32 L1044.00,1024.67 L1046.00,1024.45 L1048.00,1025.09 L1050.00,1024.55 L1052.00,1025.05 L1054.00,1025.12 L1056.00,1026.26 L1058.00,1024.26 L1060.00,1024.25 L1062.00,1023.85 L1063.75,1024.13 L1066.00,1024.96 L1068.00,1024.57 L1070.00,1024.67 L1072.00,1024.35 L1074.00,1024.80 L1076.00,1025.61 L1076.25,1025.57 L1078.00,1025.29 L1080.00,1024.51 L1081.50,1024.42 L1082.50,1024.19 L1086.00,1022.70 L1087.00,1022.02 L1088.00,1021.66 L1089.00,1022.02 L1090.00,1022.61 L1092.00,1022.92 L1094.00,1024.12 L1096.00,1026.01 L1098.00,1023.87 L1100.00,1024.32 L1101.00,1023.84 L1102.00,1023.05 L1103.25,1021.17 L1106.00,1016.17 L1106.75,1015.43 L1107.50,1015.16 L1108.25,1015.41 L1109.00,1016.11 L1112.00,1021.13 L1113.00,1022.11 L1114.00,1022.75 L1116.00,1025.01 L1118.00,1025.13 L1122.00,1026.05 L1126.00,1026.56 L1128.00,1025.85 L1130.00,1026.69 L1132.00,1026.87 L1136.00,1027.07 L1138.00,1026.27 L1140.00,1026.29 L1142.00,1026.87 L1144.00,1025.70 L1146.00,1026.59 L1148.00,1026.22 L1150.00,1026.33 L1152.00,1025.60 L1158.00,1027.08 L1160.00,1027.11 L1162.00,1026.43 L1164.25,1025.91 L1166.00,1024.82 L1168.00,1023.97 L1170.00,1021.93 L1171.00,1021.70 L1172.00,1021.95 L1173.00,1022.77 L1174.00,1023.90 L1175.25,1024.44 L1176.75,1024.97 L1178.00,1025.17 L1180.00,1026.15 L1182.00,1026.07 L1184.00,1026.33 L1186.00,1027.78 L1188.00,1027.24 L1190.00,1026.33 L1192.00,1027.57 L1194.00,1027.95 L1196.00,1027.09 L1198.00,1026.96 L1206.00,1027.99 L1212.00,1027.98 L1214.00,1027.56 L1216.00,1026.32 L1218.00,1027.05 L1220.00,1027.26 L1222.00,1026.84 L1224.00,1027.51 L1226.00,1026.77 L1228.00,1026.42 L1230.00,1027.67 L1234.00,1026.89 L1236.00,1027.21 L1238.00,1027.16 L1240.00,1026.48 L1242.00,1024.29 L1244.00,1024.07 L1246.75,1022.19 L1248.00,1021.72 L1249.25,1022.47 L1252.00,1025.09 L1256.00,1025.40 L1258.00,1027.32 L1260.00,1025.98 L1262.00,1025.54 L1264.00,1026.31 L1266.00,1026.35 L1268.00,1025.62 L1270.00,1026.17 L1274.00,1023.32 L1276.75,1022.02 L1278.75,1021.68 L1280.00,1021.84 L1282.00,1023.85 L1284.00,1024.77 L1286.00,1026.91 L1288.00,1025.00 L1290.00,1025.80 L1292.00,1024.38 L1294.00,1023.74 L1295.00,1023.87 L1296.75,1024.40 L1300.00,1025.67 L1301.75,1025.56 L1304.00,1025.17 L1305.00,1025.23" stroke="#ee3f42" stroke-width="7.5" stroke-linejoin="round"/>
<path d="M26.00,990.49 L30.00,990.23 L32.00,992.02 L34.00,992.11 L36.00,992.49 L38.00,992.34 L40.00,993.22 L42.00,992.57 L44.00,993.36 L46.00,992.31 L48.00,992.39 L50.00,993.03 L52.00,992.58 L54.00,993.39 L56.00,993.22 L58.00,992.62 L60.00,993.21 L62.00,993.03 L64.00,993.77 L66.00,992.97 L68.00,993.12 L70.00,994.07 L72.00,994.68 L74.00,994.59 L76.00,993.57 L78.00,993.70 L80.00,994.46 L82.00,993.59 L84.00,993.16 L86.00,993.80 L88.00,994.02 L90.00,993.35 L92.00,992.93 L94.00,993.07 L96.00,994.25 L98.00,993.52 L104.00,994.48 L106.00,994.00 L108.00,994.50 L110.00,993.75 L112.00,994.02 L114.00,993.64 L116.00,994.79 L120.00,993.37 L122.50,992.87 L124.75,991.71 L126.00,990.59 L127.25,987.38 L128.50,982.49 L129.25,977.75 L129.75,972.95 L131.00,954.10 L131.25,950.89 L131.60,949.06 L132.00,951.64 L133.50,975.44 L134.00,980.65 L134.75,985.15 L135.50,987.93 L136.75,990.68 L139.00,993.54 L141.25,995.78 L142.00,996.43 L144.00,995.92 L146.00,996.39 L148.00,997.68 L150.00,997.62 L152.00,998.07 L154.00,997.79 L156.00,999.46 L158.00,999.66 L160.00,999.32 L162.00,999.65 L164.00,998.41 L166.00,1000.10 L168.00,999.84 L170.00,1000.35 L172.00,1000.61 L174.00,1000.12 L176.00,999.37 L178.00,1000.59 L180.00,999.92 L182.00,999.87 L184.75,998.81 L186.00,998.09 L188.00,994.87 L189.00,994.16 L189.75,993.22 L190.00,992.80 L190.75,990.25 L191.50,986.96 L192.50,981.03 L193.25,974.63 L193.75,968.71 L194.50,955.77 L195.25,934.59 L196.75,859.25 L197.00,850.96 L197.20,848.72 L197.50,853.44 L197.75,863.54 L199.25,937.50 L200.00,957.43 L200.75,970.29 L202.00,983.14 L203.25,990.31 L204.50,995.02 L205.50,997.84 L207.00,1000.88 L208.00,1002.05 L209.00,1002.14 L210.00,1001.90 L211.00,1002.49 L212.00,1002.51 L213.00,1000.32 L214.25,995.51 L214.75,994.47 L215.00,994.61 L215.25,995.24 L216.50,1000.73 L217.50,1003.32 L218.25,1004.42 L219.00,1005.17 L220.50,1006.11 L222.00,1006.77 L226.00,1007.18 L228.00,1006.75 L232.00,1008.80 L234.00,1008.87 L238.00,1008.07 L240.00,1007.23 L242.00,1008.29 L244.00,1007.33 L248.00,1006.84 L250.00,1006.95 L252.00,1006.49 L254.00,1006.41 L256.00,1005.44 L258.00,1005.16 L260.00,1005.52 L263.00,1000.75 L264.25,997.92 L265.25,994.51 L266.25,988.72 L267.00,981.27 L267.50,973.80 L269.00,937.95 L269.40,933.86 L269.75,936.73 L270.00,941.77 L270.75,961.57 L271.50,976.63 L272.00,983.34 L272.75,990.21 L273.75,995.94 L274.25,997.84 L275.00,999.85 L276.75,1002.86 L280.00,1006.51 L282.00,1006.22 L284.00,1007.28 L286.00,1007.40 L288.00,1008.85 L290.00,1007.22 L292.00,1008.18 L294.00,1008.52 L296.00,1009.41 L298.00,1009.60 L300.00,1010.23 L302.00,1008.79 L304.00,1010.24 L306.00,1009.83 L308.00,1009.79 L310.00,1010.60 L314.00,1009.43 L316.00,1010.50 L318.00,1009.99 L322.00,1011.20 L324.00,1011.19 L326.00,1011.87 L330.00,1009.97 L332.00,1010.15 L333.50,1009.78 L337.50,1008.04 L338.00,1007.64 L338.75,1006.10 L339.50,1003.84 L340.00,1001.67 L341.75,988.79 L342.10,987.84 L342.50,989.35 L343.75,999.76 L344.50,1003.64 L345.00,1005.20 L345.75,1006.74 L346.75,1008.21 L347.75,1009.24 L348.75,1009.82 L352.00,1010.99 L354.00,1010.87 L356.00,1011.58 L358.00,1011.06 L362.00,1010.48 L364.00,1008.89 L366.00,1008.76 L368.50,1007.11 L370.00,1005.76 L372.00,1001.77 L373.25,999.81 L374.00,998.04 L375.00,993.41 L375.75,988.82 L376.50,982.83 L377.25,974.66 L378.00,962.94 L378.50,952.06 L379.25,927.73 L380.00,888.08 L381.00,819.65 L381.40,809.08 L381.75,817.51 L382.00,831.75 L383.25,914.68 L384.25,951.13 L385.25,970.28 L386.25,981.47 L387.00,987.22 L387.75,991.41 L388.50,994.26 L389.25,996.08 L389.75,996.83 L390.50,997.45 L391.00,997.33 L391.25,997.04 L392.00,995.00 L393.00,990.39 L393.30,990.12 L393.75,991.60 L395.00,1000.03 L395.75,1003.53 L396.75,1006.57 L398.25,1009.46 L400.00,1011.91 L402.00,1011.18 L404.00,1012.34 L406.00,1012.76 L408.00,1014.14 L410.00,1013.47 L414.00,1014.67 L416.00,1014.34 L418.00,1014.46 L420.00,1014.80 L422.00,1013.92 L426.00,1014.37 L427.25,1013.86 L428.50,1012.61 L429.00,1012.31 L429.50,1012.55 L430.75,1013.58 L432.00,1013.80 L433.75,1014.90 L436.00,1015.95 L438.00,1015.95 L442.00,1015.28 L444.00,1016.14 L446.00,1015.48 L448.00,1015.16 L450.00,1015.35 L452.00,1016.56 L454.00,1015.83 L456.00,1016.27 L458.00,1015.25 L460.00,1015.87 L462.00,1014.80 L464.00,1014.74 L466.00,1015.76 L470.00,1012.56 L471.25,1011.88 L472.50,1010.92 L473.50,1009.85 L474.50,1008.46 L476.00,1005.33 L477.50,998.55 L478.75,988.55 L479.50,978.30 L480.00,968.19 L481.50,919.08 L481.75,913.06 L482.00,910.91 L482.25,913.15 L482.50,919.28 L483.50,955.19 L484.25,974.33 L485.00,985.99 L485.50,991.21 L486.25,996.85 L487.00,1000.92 L488.00,1004.76 L489.00,1006.87 L490.50,1008.98 L492.00,1010.60 L494.00,1010.56 L496.00,1012.00 L498.00,1012.54 L501.00,1010.50 L502.50,1009.20 L505.00,1006.37 L506.00,1004.80 L507.50,999.34 L509.25,990.80 L510.25,983.16 L511.00,974.82 L512.00,957.53 L513.00,926.22 L513.75,884.82 L514.75,804.33 L515.00,789.18 L515.30,781.97 L515.50,785.14 L515.75,797.24 L517.00,894.49 L517.75,932.31 L518.75,960.88 L520.00,979.84 L521.00,989.08 L522.00,995.42 L523.25,1000.70 L524.50,1004.22 L527.50,1009.52 L528.50,1010.89 L530.00,1012.52 L532.00,1012.69 L536.00,1014.94 L538.00,1014.37 L540.00,1015.21 L542.00,1014.39 L544.00,1015.08 L545.00,1014.93 L546.00,1014.57 L547.00,1013.50 L548.00,1012.00 L549.50,1007.55 L550.50,1003.27 L551.00,1000.37 L552.00,990.93 L552.75,977.91 L553.75,952.72 L554.00,947.99 L554.30,945.79 L554.50,946.82 L554.75,950.66 L555.75,975.82 L556.50,989.93 L557.25,998.77 L558.00,1004.46 L559.00,1008.24 L562.00,1015.18 L563.00,1015.96 L564.00,1016.47 L566.00,1018.09 L567.25,1017.83 L568.50,1017.26 L569.25,1016.64 L570.25,1015.42 L570.75,1015.08 L571.25,1015.28 L572.75,1017.56 L574.00,1018.67 L576.00,1018.93 L578.00,1019.46 L580.00,1019.02 L582.00,1018.16 L584.00,1019.78 L586.00,1019.55 L590.00,1018.55 L592.00,1018.28 L593.50,1016.43 L594.75,1014.03 L595.50,1011.57 L596.75,1005.87 L597.10,1005.34 L597.50,1006.13 L599.00,1013.22 L600.00,1016.01 L601.00,1016.58 L602.00,1016.61 L604.00,1018.82 L606.00,1018.18 L608.00,1018.11 L610.00,1019.49 L614.00,1018.40 L618.00,1019.77 L620.00,1019.82 L621.00,1019.15 L624.25,1016.34 L625.00,1016.05 L625.50,1016.29 L627.00,1017.70 L628.75,1019.02 L630.00,1019.80 L634.00,1019.71 L639.00,1020.23 L640.00,1020.20 L642.00,1019.81 L644.00,1019.80 L646.00,1020.51 L648.00,1019.81 L650.00,1019.84 L652.00,1019.40 L653.25,1018.43 L654.50,1016.86 L655.25,1015.12 L655.75,1013.16 L656.75,1005.63 L658.50,986.89 L658.75,985.26 L659.00,984.31 L659.20,984.13 L659.50,984.86 L659.75,986.32 L661.50,1003.57 L662.50,1011.24 L663.50,1015.94 L664.00,1017.39 L664.50,1018.15 L665.25,1018.86 L666.00,1019.29 L668.00,1017.93 L672.00,1019.82 L673.75,1019.92 L676.00,1019.98 L678.00,1019.54 L680.00,1019.77 L682.00,1019.73 L684.00,1019.03 L686.00,1019.10 L688.00,1016.28 L688.75,1016.27 L689.50,1016.05 L690.00,1015.71 L690.25,1015.14 L691.00,1012.92 L691.50,1010.73 L692.50,1003.63 L693.25,994.02 L693.75,984.60 L695.75,930.08 L696.00,925.63 L696.40,922.71 L696.75,924.86 L697.25,934.44 L698.75,977.11 L699.50,993.33 L700.25,1003.83 L701.00,1009.69 L701.50,1012.02 L702.25,1014.23 L703.00,1015.70 L704.00,1016.97 L705.00,1017.65 L706.00,1018.10 L708.00,1019.78 L710.00,1020.57 L712.00,1021.11 L714.00,1020.55 L716.00,1021.10 L717.50,1020.29 L718.75,1019.14 L719.50,1017.84 L720.00,1016.57 L722.00,1009.26 L722.50,1008.05 L722.75,1007.86 L723.00,1008.00 L723.50,1009.18 L725.50,1016.51 L726.50,1018.72 L727.25,1019.74 L728.00,1020.33 L728.75,1020.68 L731.25,1021.30 L732.00,1021.43 L734.00,1021.05 L736.00,1022.21 L738.00,1021.50 L740.00,1022.03 L742.00,1021.35 L744.00,1022.00 L746.00,1022.02 L748.00,1021.56 L750.00,1022.89 L752.00,1021.97 L754.00,1022.73 L756.00,1022.26 L758.00,1021.34 L760.00,1021.47 L762.00,1021.89 L766.00,1021.62 L768.00,1021.39 L770.00,1020.51 L772.00,1021.41 L774.00,1020.33 L776.00,1021.74 L778.00,1021.07 L781.25,1020.75 L782.50,1020.08 L783.50,1018.72 L784.00,1017.65 L785.75,1011.83 L786.00,1011.26 L786.40,1010.93 L786.75,1011.13 L787.25,1012.10 L789.00,1017.26 L790.00,1019.25 L790.75,1019.81 L792.00,1020.06 L794.00,1020.93 L796.00,1022.35 L798.00,1020.73 L800.00,1021.31 L802.00,1019.51 L803.00,1019.41 L804.00,1019.04 L805.25,1016.97 L806.25,1013.70 L807.00,1009.14 L807.50,1004.35 L808.50,989.14 L810.25,951.39 L810.50,948.02 L810.90,945.91 L811.25,947.76 L811.50,951.03 L813.75,997.32 L814.50,1006.80 L815.50,1013.90 L816.00,1015.87 L816.75,1017.51 L820.00,1021.08 L822.00,1021.37 L824.00,1022.42 L826.00,1022.25 L828.00,1023.44 L830.00,1021.56 L832.00,1022.61 L834.00,1023.36 L836.00,1022.77 L838.00,1022.60 L840.00,1022.96 L842.00,1022.41 L844.00,1023.28 L846.00,1024.60 L848.00,1023.92 L850.00,1022.70 L854.00,1023.09 L856.00,1023.82 L858.00,1022.72 L860.00,1022.60 L862.00,1023.01 L862.50,1022.80 L863.25,1022.32 L864.00,1021.53 L865.00,1019.42 L866.25,1015.18 L868.25,1006.10 L868.75,1004.53 L869.30,1003.84 L869.75,1004.22 L870.25,1005.63 L872.00,1013.73 L872.75,1016.30 L873.50,1018.18 L875.50,1022.16 L876.00,1022.90 L878.00,1022.81 L882.00,1024.57 L884.00,1024.13 L886.00,1022.35 L887.00,1022.22 L888.00,1021.60 L890.75,1016.59 L891.25,1015.98 L891.75,1015.83 L892.00,1015.92 L892.50,1016.60 L894.75,1020.93 L896.00,1022.74 L897.00,1023.01 L898.00,1022.98 L900.00,1025.02 L902.00,1023.06 L904.00,1023.89 L906.00,1024.43 L910.00,1024.75 L912.00,1024.73 L914.00,1024.06 L916.00,1023.79 L917.25,1021.97 L918.00,1021.16 L918.75,1021.78 L920.00,1023.27 L922.00,1024.00 L924.00,1024.97 L926.00,1025.21 L928.00,1024.68 L930.00,1024.91 L932.00,1025.76 L934.00,1025.57 L936.00,1025.06 L938.00,1026.60 L940.00,1026.80 L942.00,1024.77 L944.00,1025.78 L946.00,1027.02 L948.00,1026.10 L954.00,1025.43 L956.00,1025.62 L958.00,1025.41 L960.00,1025.98 L962.00,1024.90 L964.50,1024.08 L965.25,1023.97 L966.00,1024.02 L968.00,1025.36 L970.00,1025.29 L974.00,1026.56 L976.00,1026.24 L978.00,1026.35 L986.00,1026.03 L988.00,1026.64 L990.00,1025.66 L992.00,1027.02 L994.00,1026.33 L996.00,1025.92 L998.00,1026.09 L1000.00,1026.02 L1002.00,1026.43 L1004.00,1025.84 L1006.00,1026.75 L1008.00,1025.58 L1010.00,1024.64 L1012.00,1025.36 L1014.00,1024.50 L1016.00,1025.32 L1018.00,1025.46 L1020.00,1024.82 L1022.00,1023.92 L1024.00,1024.49 L1026.00,1025.93 L1028.00,1025.07 L1030.00,1024.80 L1034.00,1026.22 L1038.00,1025.01 L1042.00,1025.32 L1044.00,1024.67 L1046.00,1024.45 L1048.00,1025.09 L1050.00,1024.55 L1052.00,1025.05 L1054.00,1025.12 L1056.00,1026.26 L1058.00,1024.26 L1060.00,1024.25 L1062.00,1023.85 L1063.75,1024.13 L1066.00,1024.96 L1068.00,1024.57 L1070.00,1024.67 L1072.00,1024.35 L1074.00,1024.80 L1076.00,1025.61 L1076.25,1025.57 L1078.00,1025.29 L1080.00,1024.51 L1081.50,1024.42 L1082.50,1024.19 L1086.00,1022.70 L1087.00,1022.02 L1088.00,1021.66 L1089.00,1022.02 L1090.00,1022.61 L1092.00,1022.92 L1094.00,1024.12 L1096.00,1026.01 L1098.00,1023.87 L1100.00,1024.32 L1101.00,1023.84 L1102.00,1023.05 L1103.25,1021.17 L1106.00,1016.17 L1106.75,1015.43 L1107.50,1015.16 L1108.25,1015.41 L1109.00,1016.11 L1112.00,1021.13 L1113.00,1022.11 L1114.00,1022.75 L1116.00,1025.01 L1118.00,1025.13 L1122.00,1026.05 L1126.00,1026.56 L1128.00,1025.85 L1130.00,1026.69 L1132.00,1026.87 L1136.00,1027.07 L1138.00,1026.27 L1140.00,1026.29 L1142.00,1026.87 L1144.00,1025.70 L1146.00,1026.59 L1148.00,1026.22 L1150.00,1026.33 L1152.00,1025.60 L1158.00,1027.08 L1160.00,1027.11 L1162.00,1026.43 L1164.25,1025.91 L1166.00,1024.82 L1168.00,1023.97 L1170.00,1021.93 L1171.00,1021.70 L1172.00,1021.95 L1173.00,1022.77 L1174.00,1023.90 L1175.25,1024.44 L1176.75,1024.97 L1178.00,1025.17 L1180.00,1026.15 L1182.00,1026.07 L1184.00,1026.33 L1186.00,1027.78 L1188.00,1027.24 L1190.00,1026.33 L1192.00,1027.57 L1194.00,1027.95 L1196.00,1027.09 L1198.00,1026.96 L1206.00,1027.99 L1212.00,1027.98 L1214.00,1027.56 L1216.00,1026.32 L1218.00,1027.05 L1220.00,1027.26 L1222.00,1026.84 L1224.00,1027.51 L1226.00,1026.77 L1228.00,1026.42 L1230.00,1027.67 L1234.00,1026.89 L1236.00,1027.21 L1238.00,1027.16 L1240.00,1026.48 L1242.00,1024.29 L1244.00,1024.07 L1246.75,1022.19 L1248.00,1021.72 L1249.25,1022.47 L1252.00,1025.09 L1256.00,1025.40 L1258.00,1027.32 L1260.00,1025.98 L1262.00,1025.54 L1264.00,1026.31 L1266.00,1026.35 L1268.00,1025.62 L1270.00,1026.17 L1274.00,1023.32 L1276.75,1022.02 L1278.75,1021.68 L1280.00,1021.84 L1282.00,1023.85 L1284.00,1024.77 L1286.00,1026.91 L1288.00,1025.00 L1290.00,1025.80 L1292.00,1024.38 L1294.00,1023.74 L1295.00,1023.87 L1296.75,1024.40 L1300.00,1025.67 L1301.75,1025.56 L1304.00,1025.17 L1305.00,1025.23" stroke="#ee3f42" stroke-width="5" stroke-linejoin="round"/>
</g>

<g font-size="55.9">
<text transform="translate(168.0,1154.55) scale(0.89,1)" text-anchor="middle">10</text><text transform="translate(452.0,1154.55) scale(0.89,1)" text-anchor="middle">20</text><text transform="translate(736.0,1154.55) scale(0.89,1)" text-anchor="middle">30</text><text transform="translate(1020.0,1154.55) scale(0.89,1)" text-anchor="middle">40</text><text transform="translate(1304.0,1154.55) scale(0.89,1)" text-anchor="middle">50</text>
</g>
<text font-size="55.94" transform="translate(995.89,447.39) scale(0.8852,1)">LEV</text>
<text font-size="55.00" transform="translate(990.72,746.20) scale(0.9000,1)">U-Al60</text>
<text font-size="55.00" transform="translate(990.70,1000.70) scale(0.9000,1)">U-Al30</text>
<g fill="#000" stroke="none" fill-rule="evenodd">
<path d="M609.09,1198.78 L609.09,1191.51 L611.95,1187.35 L617.15,1184.86 L621.82,1184.86 L624.94,1186.05 L628.32,1189.69 L628.99,1193.07 L628.99,1199.30 L627.54,1202.42 L625.46,1205.54 L618.71,1212.55 L613.77,1219.05 L623.64,1219.05 L626.24,1215.41 L626.24,1213.07 L628.99,1213.07 L628.99,1222.68 L628.06,1225.02 L607.90,1225.02 L607.90,1220.61 L609.87,1216.45 L612.99,1212.29 L618.71,1206.06 L622.86,1199.82 L622.86,1192.03 L620.78,1189.69 L618.19,1188.91 L615.07,1190.21 L613.77,1192.55 L615.07,1193.59 L615.85,1197.22 L614.81,1199.82 L610.13,1199.82 Z"/>
<path d="M630.90,1205.90 A12.05,21.00 0 1,0 655.00,1205.90 A12.05,21.00 0 1,0 630.90,1205.90 Z M637.90,1205.95 A5.10,16.00 0 1,0 648.10,1205.95 A5.10,16.00 0 1,0 637.90,1205.95 Z"/>
<rect x="636.5" y="1203.1" width="13" height="4.9"/>
<path d="M668.86,1185.00 L673.13,1185.00 L660.67,1226.93 L655.93,1226.93 Z"/>
<path d="M687.95,1185.00 L681.43,1188.38 L676.09,1194.01 L673.72,1198.76 L672.24,1204.69 L671.94,1211.21 L672.24,1218.33 L673.72,1223.07 L677.28,1229.00 L682.02,1234.34 L687.95,1237.90 L687.95,1234.34 L683.21,1229.59 L680.24,1223.07 L679.06,1215.95 L679.06,1207.06 L680.24,1199.94 L683.21,1193.42 L687.95,1188.67 Z"/>
<path d="M688.00,1195.95 A8.95,9.95 0 1,0 705.90,1195.95 A8.95,9.95 0 1,0 688.00,1195.95 Z M692.80,1195.95 A4.10,4.15 0 1,0 701.00,1195.95 A4.10,4.15 0 1,0 692.80,1195.95 Z"/>
<path d="M706.00,1185.00 L712.52,1188.38 L717.86,1194.01 L720.23,1198.76 L721.71,1204.69 L722.01,1211.21 L721.71,1218.33 L720.23,1223.07 L716.67,1229.00 L711.93,1234.34 L706.00,1237.90 L706.00,1234.34 L710.74,1229.59 L713.71,1223.07 L714.89,1215.95 L714.89,1207.06 L713.71,1199.94 L710.74,1193.42 L706.00,1188.67 Z"/>
</g>
</svg>
</body></html>
